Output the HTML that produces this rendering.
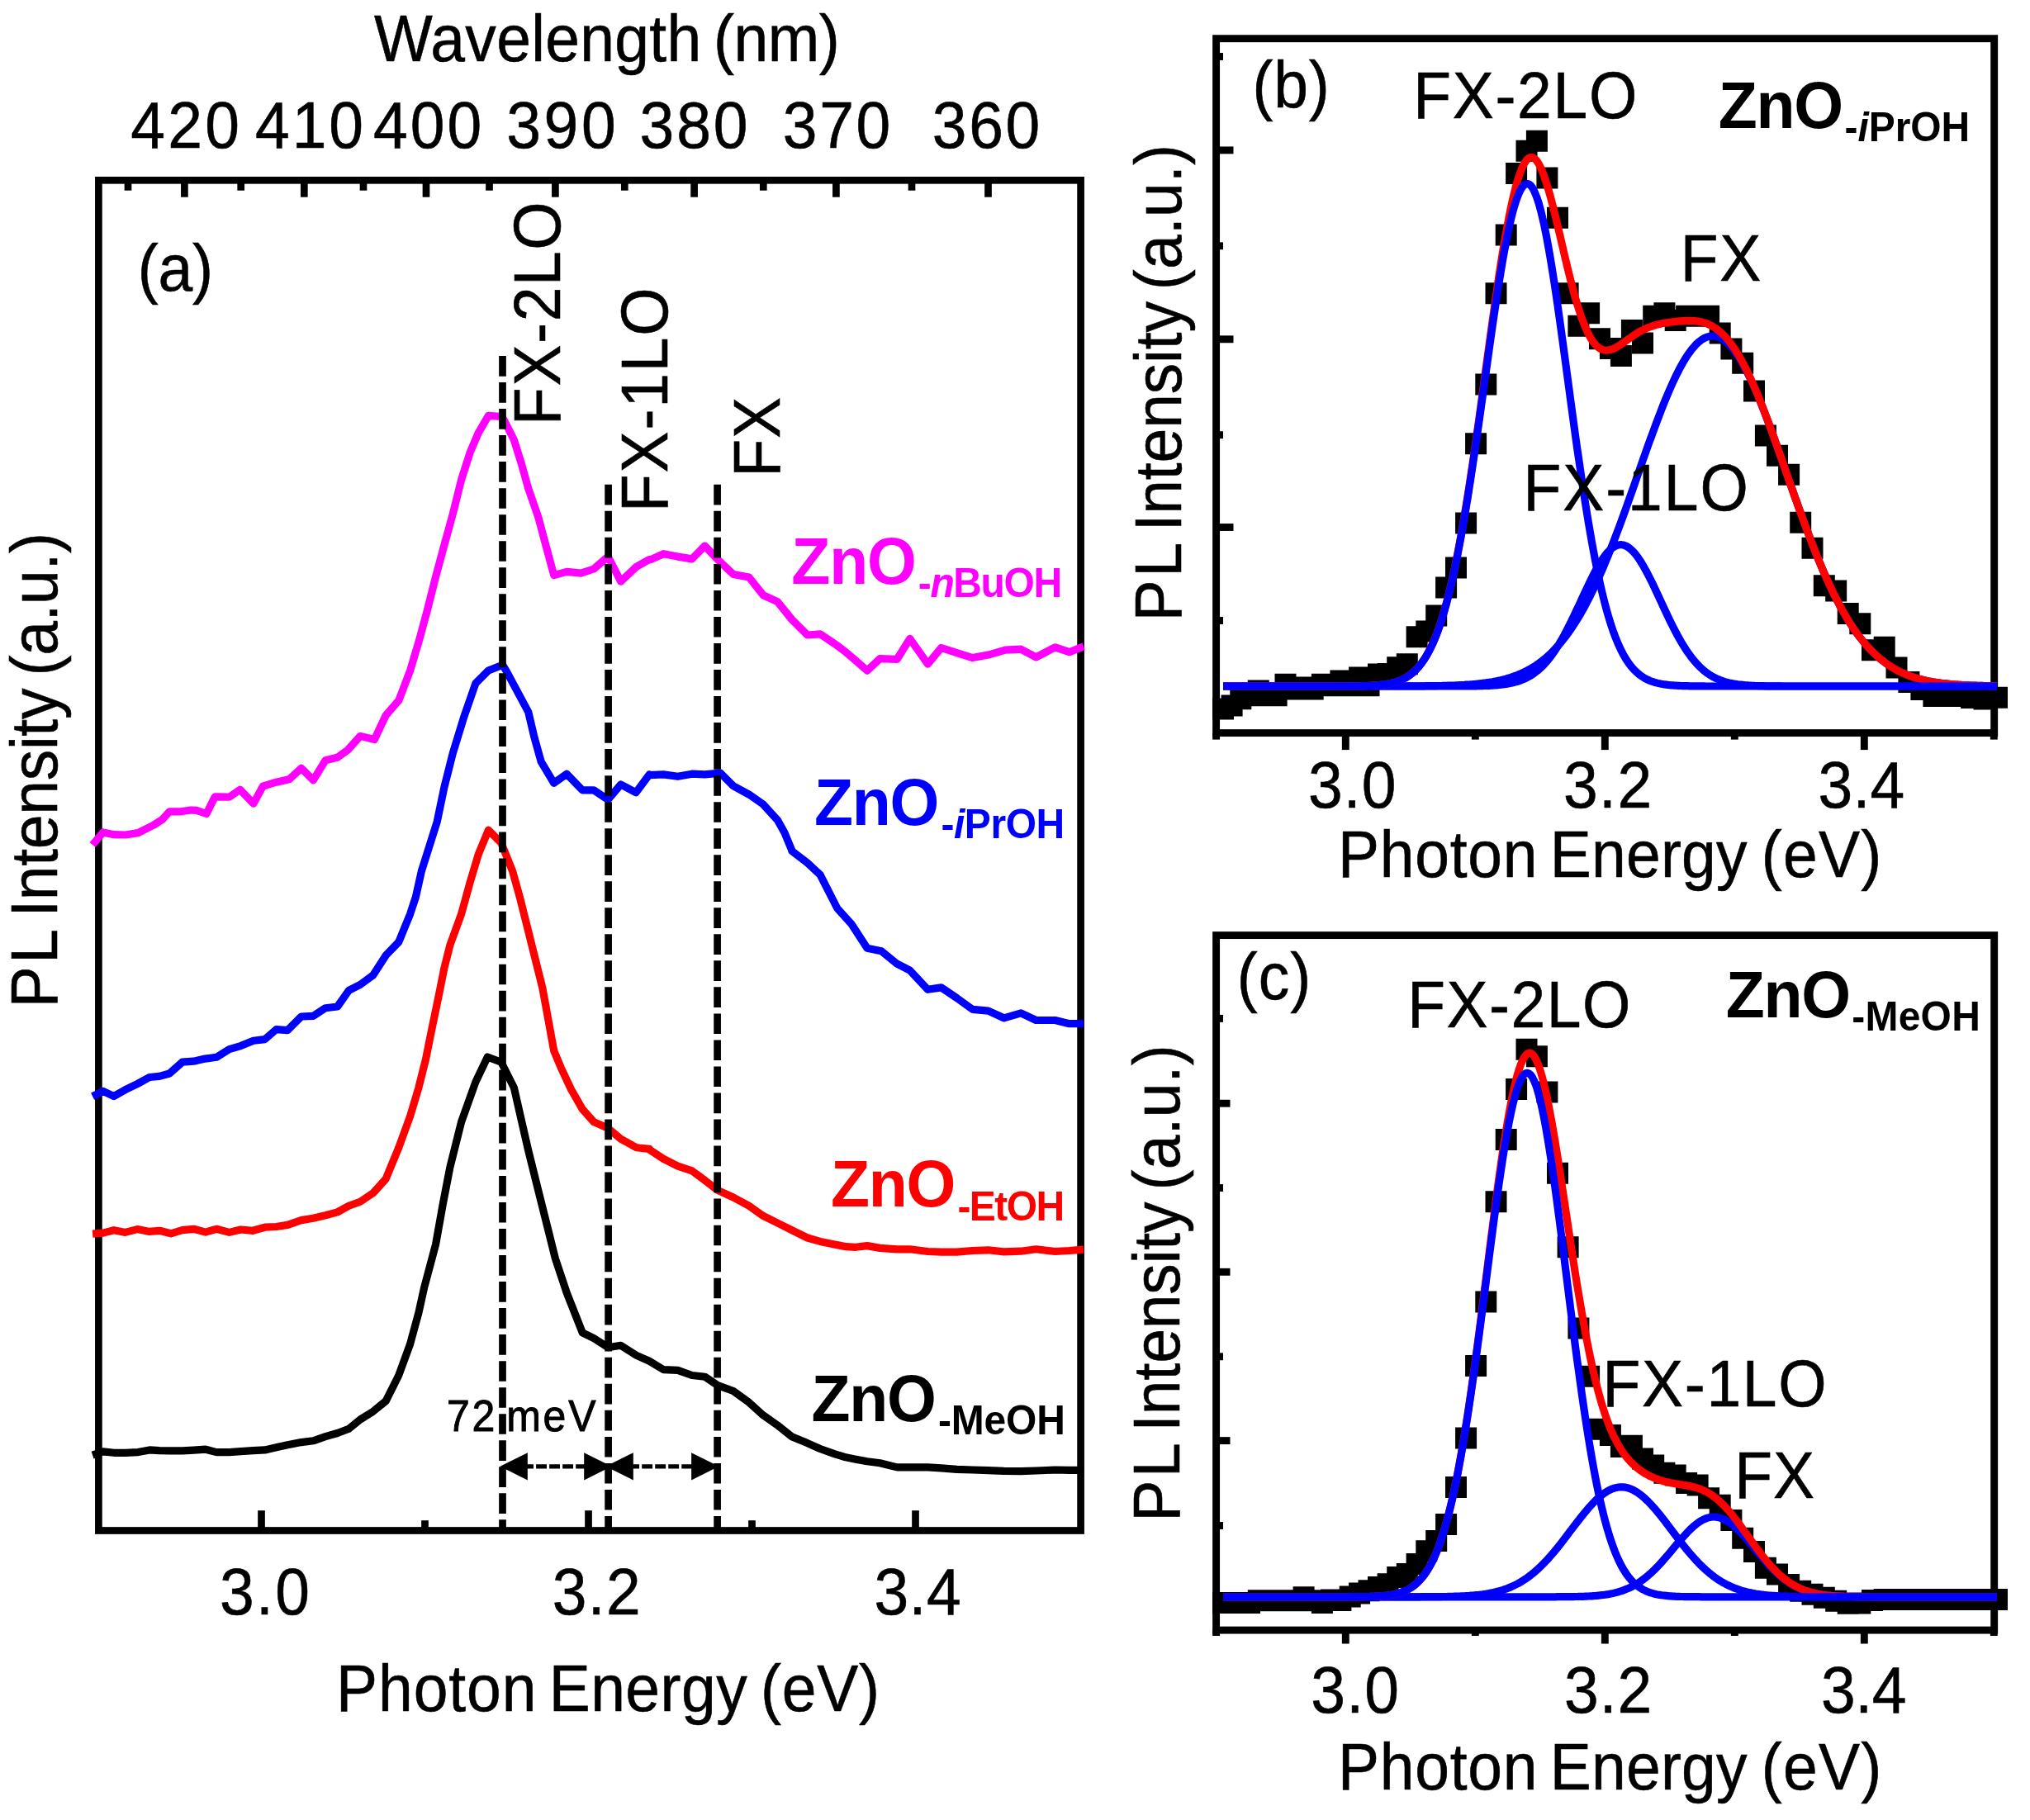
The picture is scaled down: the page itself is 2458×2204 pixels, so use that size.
<!DOCTYPE html>
<html><head><meta charset="utf-8"><title>PL spectra</title><style>html,body{margin:0;padding:0;background:#fff}svg{display:block}</style></head><body>
<svg width="2458" height="2204" viewBox="0 0 2458 2204" font-family="Liberation Sans, sans-serif">
<rect width="2458" height="2204" fill="#fff"/>
<rect x="119.4" y="218.3" width="1189.1999999999998" height="1635.2" fill="none" stroke="#000" stroke-width="8.7"/>
<line x1="316.5" y1="1853.5" x2="316.5" y2="1829.2" stroke="#000" stroke-width="8.7"/>
<line x1="514.5" y1="1853.5" x2="514.5" y2="1841.2" stroke="#000" stroke-width="8.7"/>
<line x1="712.5" y1="1853.5" x2="712.5" y2="1829.2" stroke="#000" stroke-width="8.7"/>
<line x1="910.5" y1="1853.5" x2="910.5" y2="1841.2" stroke="#000" stroke-width="8.7"/>
<line x1="1108.5" y1="1853.5" x2="1108.5" y2="1829.2" stroke="#000" stroke-width="8.7"/>
<line x1="223.4" y1="218.3" x2="223.4" y2="238.7" stroke="#000" stroke-width="8.7"/>
<line x1="368.3" y1="218.3" x2="368.3" y2="238.7" stroke="#000" stroke-width="8.7"/>
<line x1="516.0" y1="218.3" x2="516.0" y2="238.7" stroke="#000" stroke-width="8.7"/>
<line x1="672.4" y1="218.3" x2="672.4" y2="238.7" stroke="#000" stroke-width="8.7"/>
<line x1="840.6" y1="218.3" x2="840.6" y2="238.7" stroke="#000" stroke-width="8.7"/>
<line x1="1012.4" y1="218.3" x2="1012.4" y2="238.7" stroke="#000" stroke-width="8.7"/>
<line x1="1196.5" y1="218.3" x2="1196.5" y2="238.7" stroke="#000" stroke-width="8.7"/>
<line x1="155.0" y1="218.3" x2="155.0" y2="230.7" stroke="#000" stroke-width="8.7"/>
<line x1="291.7" y1="218.3" x2="291.7" y2="230.7" stroke="#000" stroke-width="8.7"/>
<line x1="440.0" y1="218.3" x2="440.0" y2="230.7" stroke="#000" stroke-width="8.7"/>
<line x1="592.5" y1="218.3" x2="592.5" y2="230.7" stroke="#000" stroke-width="8.7"/>
<line x1="756.3" y1="218.3" x2="756.3" y2="230.7" stroke="#000" stroke-width="8.7"/>
<line x1="924.3" y1="218.3" x2="924.3" y2="230.7" stroke="#000" stroke-width="8.7"/>
<line x1="1104.0" y1="218.3" x2="1104.0" y2="230.7" stroke="#000" stroke-width="8.7"/>
<polyline points="112.1,1762.1 124.8,1757.9 137.9,1759.3 151.7,1759.3 167.2,1758.6 181.0,1755.9 193.1,1756.6 206.9,1756.9 220.7,1756.9 234.5,1756.2 249.0,1755.2 262.1,1758.6 277.6,1758.6 291.4,1757.6 306.2,1756.6 320.7,1755.9 334.5,1752.8 348.3,1749.7 364.8,1746.6 379.3,1744.8 394.1,1739.7 408.6,1735.5 422.4,1730.3 436.2,1719.0 451.7,1709.3 467.2,1696.6 482.8,1665.5 496.6,1627.6 506.9,1589.7 513.8,1558.6 527.6,1506.9 536.2,1458.6 544.8,1413.8 558.6,1358.6 575.9,1310.3 590.3,1280.0 606.9,1286.2 622.4,1317.2 631.0,1355.2 639.7,1393.1 651.7,1441.4 663.8,1489.7 672.4,1524.1 686.2,1565.5 705.2,1613.8 719.0,1620.7 736.2,1631.7 751.7,1629.3 770.7,1641.4 786.2,1648.3 803.4,1658.6 820.7,1659.3 837.9,1665.5 853.4,1667.2 869.0,1677.6 887.9,1684.5 906.9,1698.3 924.1,1713.8 941.4,1725.9 958.6,1739.7 977.6,1747.6 993.1,1754.5 1010.3,1760.7 1024.1,1764.8 1036.2,1767.2 1050.0,1769.7 1065.5,1771.7 1086.2,1776.9 1101.7,1776.9 1123.4,1776.9 1139.7,1777.9 1158.6,1779.3 1177.6,1780.0 1196.6,1780.7 1215.5,1781.4 1236.2,1781.7 1254.5,1781.0 1277.6,1780.0 1294.8,1780.3 1312.1,1780.3" fill="none" stroke="#000" stroke-width="9.2" stroke-linejoin="round" />
<polyline points="112.1,1494.1 124.8,1493.1 137.9,1489.7 151.7,1492.4 166.2,1488.6 181.0,1491.4 193.1,1490.3 206.9,1493.8 220.7,1489.7 234.5,1488.3 249.0,1492.1 262.1,1488.3 277.6,1492.4 291.4,1489.0 306.2,1490.3 320.7,1486.2 334.5,1485.5 348.3,1483.4 364.8,1477.6 379.3,1475.2 394.1,1471.7 408.6,1467.9 422.4,1460.3 436.2,1455.2 451.7,1444.8 467.2,1427.6 482.8,1389.7 496.6,1351.7 506.9,1317.2 515.5,1282.8 522.4,1248.3 531.0,1206.9 537.9,1172.4 544.8,1144.8 558.6,1106.9 569.0,1069.0 579.3,1034.5 591.4,1005.2 606.9,1020.7 620.7,1055.2 629.3,1086.2 639.7,1127.6 648.3,1162.1 656.9,1196.6 663.8,1234.5 670.7,1272.4 679.3,1293.1 691.4,1319.0 705.2,1343.1 719.0,1358.6 736.2,1366.2 751.7,1379.3 770.7,1389.7 786.2,1391.4 786.2,1392.1 803.4,1403.4 820.7,1412.1 837.9,1417.9 853.4,1429.3 869.0,1441.4 887.9,1450.0 906.9,1460.3 924.1,1472.4 941.4,1481.0 958.6,1489.7 977.6,1499.0 993.1,1503.4 1010.3,1506.9 1024.1,1509.7 1036.2,1510.3 1050.0,1508.6 1065.5,1511.4 1086.2,1512.8 1101.7,1512.8 1123.4,1515.5 1139.7,1516.2 1158.6,1516.2 1177.6,1514.5 1196.6,1513.8 1215.5,1515.9 1236.2,1515.2 1254.5,1512.8 1277.6,1515.5 1294.8,1514.5 1312.1,1513.1" fill="none" stroke="#f00" stroke-width="9.2" stroke-linejoin="round" />
<polyline points="112.1,1327.6 124.8,1321.4 137.9,1327.6 151.7,1319.7 167.2,1312.1 181.0,1304.5 193.1,1303.4 205.2,1300.0 220.7,1286.2 234.5,1285.2 248.3,1282.1 262.1,1280.3 277.6,1270.7 291.4,1266.6 306.9,1260.3 320.7,1258.6 334.5,1246.6 348.3,1247.6 364.8,1231.0 379.3,1230.3 394.1,1220.7 408.6,1219.0 422.4,1199.3 436.2,1192.4 451.7,1181.0 467.2,1156.9 482.8,1140.7 496.6,1106.9 503.4,1086.2 510.3,1055.2 529.3,994.8 537.9,953.4 548.3,912.1 562.1,867.2 575.9,827.6 591.4,812.1 608.6,805.2 613.8,813.8 627.6,839.7 639.7,862.1 646.6,891.4 655.2,922.4 670.7,948.3 686.2,937.2 705.2,956.9 719.0,956.9 736.2,968.3 751.7,950.0 770.0,959.7 786.2,937.9 786.2,938.6 803.4,937.9 820.7,940.3 837.9,937.2 853.4,937.9 872.4,936.2 887.9,951.7 906.9,962.1 924.1,974.1 941.4,993.1 950.0,1008.6 958.6,1029.3 958.6,1030.3 977.6,1044.8 993.1,1059.3 1013.8,1100.0 1031.0,1119.0 1050.0,1148.3 1067.2,1151.7 1086.2,1167.2 1101.7,1175.2 1123.4,1198.3 1139.7,1195.9 1158.6,1208.6 1177.6,1222.4 1196.6,1224.1 1215.5,1232.8 1236.2,1226.9 1254.5,1235.5 1277.6,1235.5 1294.8,1239.7 1312.1,1239.7" fill="none" stroke="#00f" stroke-width="9.2" stroke-linejoin="round" />
<polyline points="112.1,1023.1 124.8,1007.9 137.9,1010.7 151.7,1011.0 167.2,1008.6 186.2,999.0 196.6,992.4 205.2,982.8 219.0,982.8 231.0,981.0 237.9,981.4 250.0,985.5 260.3,964.8 277.6,965.2 290.7,956.2 306.9,973.1 318.3,952.1 334.5,947.2 350.0,943.8 364.8,930.3 379.3,944.8 394.1,920.7 408.6,917.2 420.7,908.6 436.2,891.4 453.4,895.5 467.2,866.2 482.8,848.3 496.6,812.1 506.9,777.6 517.2,739.7 527.6,698.3 537.9,660.3 548.3,622.4 558.6,581.0 569.0,548.3 579.3,524.1 591.4,503.4 606.9,504.5 610.3,508.6 622.4,532.8 631.0,560.3 639.7,591.4 651.7,625.9 658.6,651.7 670.7,696.6 686.2,692.4 703.4,694.1 719.0,689.0 736.2,674.1 751.7,704.1 770.7,686.2 786.2,677.6 787.9,677.6 803.4,670.7 820.7,674.1 837.9,676.9 853.4,661.0 869.0,677.6 887.9,695.5 906.9,699.0 924.1,720.7 941.4,728.6 958.6,750.0 977.6,769.0 993.1,767.9 1010.3,779.3 1024.1,789.7 1036.2,800.0 1050.0,812.1 1065.5,797.6 1086.2,798.3 1101.7,773.4 1123.4,804.1 1139.7,784.5 1158.6,790.7 1177.6,796.6 1196.6,793.1 1217.2,787.2 1236.2,786.2 1254.5,795.9 1277.6,783.8 1294.8,789.7 1312.1,782.8" fill="none" stroke="#f0f" stroke-width="9.2" stroke-linejoin="round" />
<line x1="608.5" y1="431" x2="608.5" y2="1853.5" stroke="#000" stroke-width="8.7" stroke-dasharray="24.66 7.37"/>
<line x1="736.6" y1="586.8" x2="736.6" y2="1853.5" stroke="#000" stroke-width="8.7" stroke-dasharray="24.66 7.37"/>
<line x1="868.6" y1="586.8" x2="868.6" y2="1853.5" stroke="#000" stroke-width="8.7" stroke-dasharray="24.66 7.37"/>
<line x1="637.8" y1="1775.8" x2="708.2" y2="1775.8" stroke="#000" stroke-width="5.3" stroke-dasharray="12.9 3.13" stroke-dashoffset="4.73"/>
<polygon points="605.5,1775.8 638.8,1759.2 638.8,1792.3999999999999" fill="#000"/>
<polygon points="740.5,1775.8 707.2,1759.2 707.2,1792.3999999999999" fill="#000"/>
<line x1="765.8" y1="1775.8" x2="838.1" y2="1775.8" stroke="#000" stroke-width="5.3" stroke-dasharray="12.9 3.13" stroke-dashoffset="4.63"/>
<polygon points="733.5,1775.8 766.8,1759.2 766.8,1792.3999999999999" fill="#000"/>
<polygon points="870.4,1775.8 837.1,1759.2 837.1,1792.3999999999999" fill="#000"/>
<text font-size="75" stroke="#000" stroke-width="0.55" transform="translate(0 74.3) scale(1 1.068)"><tspan x="453.0" y="0" letter-spacing="0.34">Wavelength</tspan> <tspan x="864.0" y="0" letter-spacing="-0.50">(nm)</tspan></text>
<text font-size="75" stroke="#000" stroke-width="0.55" transform="translate(0 179.3) scale(1 1.068)"><tspan x="158.3" y="0" letter-spacing="3.30">420</tspan></text>
<text font-size="75" stroke="#000" stroke-width="0.55" transform="translate(0 179.3) scale(1 1.068)"><tspan x="309.0" y="0" letter-spacing="2.95">410</tspan></text>
<text font-size="75" stroke="#000" stroke-width="0.55" transform="translate(0 179.3) scale(1 1.068)"><tspan x="452.1" y="0" letter-spacing="2.95">400</tspan></text>
<text font-size="75" stroke="#000" stroke-width="0.55" transform="translate(0 179.3) scale(1 1.068)"><tspan x="613.2" y="0" letter-spacing="3.65">390</tspan></text>
<text font-size="75" stroke="#000" stroke-width="0.55" transform="translate(0 179.3) scale(1 1.068)"><tspan x="774.6" y="0" letter-spacing="2.90">380</tspan></text>
<text font-size="75" stroke="#000" stroke-width="0.55" transform="translate(0 179.3) scale(1 1.068)"><tspan x="947.7" y="0" letter-spacing="2.75">370</tspan></text>
<text font-size="75" stroke="#000" stroke-width="0.55" transform="translate(0 179.3) scale(1 1.068)"><tspan x="1128.7" y="0" letter-spacing="2.75">360</tspan></text>
<text font-size="75" stroke="#000" stroke-width="0.55" transform="translate(0 351.7) scale(1 1.068)"><tspan x="166.7" y="0" letter-spacing="-0.15">(a)</tspan></text>
<text font-size="75" stroke="#000" stroke-width="0.55" transform="translate(0 1955.2) scale(1 1.068)"><tspan x="266.0" y="0" letter-spacing="2.35">3.0</tspan></text>
<text font-size="75" stroke="#000" stroke-width="0.55" transform="translate(0 1955.2) scale(1 1.068)"><tspan x="668.7" y="0" letter-spacing="1.35">3.2</tspan></text>
<text font-size="75" stroke="#000" stroke-width="0.55" transform="translate(0 1955.2) scale(1 1.068)"><tspan x="1058.4" y="0" letter-spacing="0.50">3.4</tspan></text>
<text font-size="75" stroke="#000" stroke-width="0.55" transform="translate(0 2071.5) scale(1 1.068)"><tspan x="407.1" y="0" letter-spacing="0.94">Photon</tspan> <tspan x="664.7" y="0" letter-spacing="0.48">Energy</tspan> <tspan x="920.9" y="0" letter-spacing="0.80">(eV)</tspan></text>
<text font-size="75" stroke="#000" stroke-width="0.55" transform="translate(68.5 1220.2) rotate(-90) scale(1 1.068)"><tspan x="0.0" y="0" letter-spacing="3.50">PL</tspan> <tspan x="109.4" y="0" letter-spacing="-0.25">Intensity</tspan> <tspan x="401.7" y="0" letter-spacing="-0.30">(a.u.)</tspan></text>
<text font-size="75" stroke="#000" stroke-width="0.55" transform="translate(677.8 514.9) rotate(-90) scale(1 1.068)"><tspan x="0.0" y="0" letter-spacing="1.58">FX-2LO</tspan></text>
<text font-size="75" stroke="#000" stroke-width="0.55" transform="translate(807.9 620.0) rotate(-90) scale(1 1.068)"><tspan x="0.0" y="0" letter-spacing="1.82">FX-1LO</tspan></text>
<text font-size="75" stroke="#000" stroke-width="0.55" transform="translate(943.9 577.4) rotate(-90) scale(1 1.068)"><tspan x="0.0" y="0" letter-spacing="0.50">FX</tspan></text>
<text font-size="50" stroke="#000" stroke-width="0.9" transform="translate(0 1732.8) scale(1 1.068)"><tspan x="541.1" y="0" letter-spacing="2.50">72</tspan> <tspan x="613.2" y="0" letter-spacing="2.75">meV</tspan></text>
<text font-size="77" font-weight="bold" fill="#f0f" transform="translate(0 707.0) scale(1 1.045)"><tspan x="958.3" y="0" letter-spacing="-1.20">ZnO</tspan></text>
<text font-size="48" font-weight="bold" fill="#f0f" transform="translate(0 723.1) scale(1 1.045)"><tspan x="1111.8" y="0" letter-spacing="-1.40">-<tspan font-style="italic">n</tspan>BuOH</tspan></text>
<text font-size="77" font-weight="bold" fill="#00f" transform="translate(0 999.3) scale(1 1.045)"><tspan x="986.0" y="0" letter-spacing="-1.25">ZnO</tspan></text>
<text font-size="48" font-weight="bold" fill="#00f" transform="translate(0 1015.4) scale(1 1.045)"><tspan x="1139.4" y="0" letter-spacing="-0.44">-<tspan font-style="italic">i</tspan>PrOH</tspan></text>
<text font-size="77" font-weight="bold" fill="#f00" transform="translate(0 1461.4) scale(1 1.045)"><tspan x="1005.9" y="0" letter-spacing="-1.25">ZnO</tspan></text>
<text font-size="48" font-weight="bold" fill="#f00" transform="translate(0 1477.5) scale(1 1.045)"><tspan x="1159.4" y="0" letter-spacing="-1.55">-EtOH</tspan></text>
<text font-size="77" font-weight="bold" transform="translate(0 1720.7) scale(1 1.045)"><tspan x="982.5" y="0" letter-spacing="-1.25">ZnO</tspan></text>
<text font-size="48" font-weight="bold" transform="translate(0 1736.8) scale(1 1.045)"><tspan x="1136.0" y="0" letter-spacing="-0.20">-MeOH</tspan></text>
<rect x="1472.6" y="46.7" width="942.0999999999999" height="840.9" fill="none" stroke="#000" stroke-width="8.9"/>
<line x1="1472.6" y1="887.6" x2="1472.6" y2="895.6" stroke="#000" stroke-width="8.9"/>
<line x1="1629.3" y1="887.6" x2="1629.3" y2="908.1" stroke="#000" stroke-width="8.9"/>
<line x1="1786.3" y1="887.6" x2="1786.3" y2="895.6" stroke="#000" stroke-width="8.9"/>
<line x1="1943.3" y1="887.6" x2="1943.3" y2="908.1" stroke="#000" stroke-width="8.9"/>
<line x1="2100.3" y1="887.6" x2="2100.3" y2="895.6" stroke="#000" stroke-width="8.9"/>
<line x1="2257.3" y1="887.6" x2="2257.3" y2="908.1" stroke="#000" stroke-width="8.9"/>
<line x1="2414.3" y1="887.6" x2="2414.3" y2="895.6" stroke="#000" stroke-width="8.9"/>
<line x1="1472.6" y1="181.9" x2="1493.5" y2="181.9" stroke="#000" stroke-width="8.9"/>
<line x1="1472.6" y1="410.8" x2="1493.5" y2="410.8" stroke="#000" stroke-width="8.9"/>
<line x1="1472.6" y1="638.5" x2="1493.5" y2="638.5" stroke="#000" stroke-width="8.9"/>
<line x1="1472.6" y1="866.5" x2="1493.5" y2="866.5" stroke="#000" stroke-width="8.9"/>
<line x1="1472.6" y1="68.5" x2="1481.0" y2="68.5" stroke="#000" stroke-width="8.9"/>
<line x1="1472.6" y1="297.8" x2="1481.0" y2="297.8" stroke="#000" stroke-width="8.9"/>
<line x1="1472.6" y1="526.7" x2="1481.0" y2="526.7" stroke="#000" stroke-width="8.9"/>
<line x1="1472.6" y1="751.5" x2="1481.0" y2="751.5" stroke="#000" stroke-width="8.9"/>
<path d="M2405.0 831.8h26.0v26.0h-26.0zM2389.5 833.6h26.0v26.0h-26.0zM2374.1 832.0h26.0v26.0h-26.0zM2358.8 830.0h26.0v26.0h-26.0zM2343.6 830.0h26.0v26.0h-26.0zM2328.4 830.0h26.0v26.0h-26.0zM2313.4 822.0h26.0v26.0h-26.0zM2298.4 812.9h26.0v26.0h-26.0zM2283.5 795.6h26.0v26.0h-26.0zM2268.7 770.8h26.0v26.0h-26.0zM2254.0 774.2h26.0v26.0h-26.0zM2239.3 742.2h26.0v26.0h-26.0zM2224.7 730.1h26.0v26.0h-26.0zM2210.2 702.5h26.0v26.0h-26.0zM2195.8 696.3h26.0v26.0h-26.0zM2181.5 650.8h26.0v26.0h-26.0zM2167.2 619.8h26.0v26.0h-26.0zM2153.1 561.8h26.0v26.0h-26.0zM2139.0 538.7h26.0v26.0h-26.0zM2124.9 514.6h26.0v26.0h-26.0zM2111.0 460.4h26.0v26.0h-26.0zM2097.2 426.7h26.0v26.0h-26.0zM2083.4 409.4h26.0v26.0h-26.0zM2069.7 390.4h26.0v26.0h-26.0zM2056.1 369.8h26.0v26.0h-26.0zM2042.6 369.8h26.0v26.0h-26.0zM2029.1 369.8h26.0v26.0h-26.0zM2015.7 375.0h26.0v26.0h-26.0zM2002.4 366.3h26.0v26.0h-26.0zM1989.2 369.8h26.0v26.0h-26.0zM1976.0 402.5h26.0v26.0h-26.0zM1962.9 387.0h26.0v26.0h-26.0zM1949.9 418.0h26.0v26.0h-26.0zM1936.9 409.0h26.0v26.0h-26.0zM1924.0 397.3h26.0v26.0h-26.0zM1911.1 366.3h26.0v26.0h-26.0zM1898.4 381.8h26.0v26.0h-26.0zM1885.6 342.2h26.0v26.0h-26.0zM1873.0 250.8h26.0v26.0h-26.0zM1860.4 202.5h26.0v26.0h-26.0zM1847.9 157.7h26.0v26.0h-26.0zM1835.5 169.8h26.0v26.0h-26.0zM1823.1 197.0h26.0v26.0h-26.0zM1810.7 271.5h26.0v26.0h-26.0zM1798.5 342.2h26.0v26.0h-26.0zM1786.3 452.5h26.0v26.0h-26.0zM1774.1 524.3h26.0v26.0h-26.0zM1762.1 620.5h26.0v26.0h-26.0zM1750.0 674.4h26.0v26.0h-26.0zM1738.1 698.6h26.0v26.0h-26.0zM1726.2 732.4h26.0v26.0h-26.0zM1714.3 751.6h26.0v26.0h-26.0zM1702.6 758.3h26.0v26.0h-26.0zM1690.8 791.3h26.0v26.0h-26.0zM1679.2 795.3h26.0v26.0h-26.0zM1667.6 803.0h26.0v26.0h-26.0zM1656.0 803.4h26.0v26.0h-26.0zM1644.5 817.3h26.0v26.0h-26.0zM1633.1 807.5h26.0v26.0h-26.0zM1621.7 817.3h26.0v26.0h-26.0zM1610.4 811.5h26.0v26.0h-26.0zM1599.1 817.3h26.0v26.0h-26.0zM1587.9 815.7h26.0v26.0h-26.0zM1576.7 821.5h26.0v26.0h-26.0zM1565.6 819.6h26.0v26.0h-26.0zM1554.5 821.5h26.0v26.0h-26.0zM1543.5 815.7h26.0v26.0h-26.0zM1532.6 829.3h26.0v26.0h-26.0zM1521.7 829.3h26.0v26.0h-26.0zM1510.8 823.6h26.0v26.0h-26.0zM1500.0 829.3h26.0v26.0h-26.0zM1489.3 833.3h26.0v26.0h-26.0zM1478.6 841.4h26.0v26.0h-26.0zM1468.0 845.4h26.0v26.0h-26.0z" fill="#000"/>
<polyline points="1481.0,831.0 1483.0,831.0 1485.0,831.0 1487.0,831.0 1489.0,831.0 1491.0,831.0 1493.0,831.0 1495.0,831.0 1497.0,831.0 1499.0,831.0 1501.0,831.0 1503.0,831.0 1505.0,831.0 1507.0,831.0 1509.0,831.0 1511.0,831.0 1513.0,831.0 1515.0,831.0 1517.0,831.0 1519.0,831.0 1521.0,831.0 1523.0,831.0 1525.0,831.0 1527.0,831.0 1529.0,831.0 1531.0,831.0 1533.0,831.0 1535.0,831.0 1537.0,831.0 1539.0,831.0 1541.0,831.0 1543.0,831.0 1545.0,831.0 1547.0,831.0 1549.0,831.0 1551.0,831.0 1553.0,831.0 1555.0,831.0 1557.0,831.0 1559.1,831.0 1561.1,831.0 1563.1,831.0 1565.1,831.0 1567.1,831.0 1569.1,831.0 1571.1,831.0 1573.1,831.0 1575.1,831.0 1577.1,831.0 1579.1,831.0 1581.1,831.0 1583.1,831.0 1585.1,831.0 1587.1,831.0 1589.1,831.0 1591.1,831.0 1593.1,831.0 1595.1,831.0 1597.1,831.0 1599.1,831.0 1601.1,831.0 1603.1,831.0 1605.1,831.0 1607.1,831.0 1609.1,831.0 1611.1,831.0 1613.1,831.0 1615.1,831.0 1617.1,831.0 1619.1,831.0 1621.1,831.0 1623.1,831.0 1625.1,831.0 1627.1,831.0 1629.1,831.0 1631.1,831.0 1633.1,831.0 1635.1,831.0 1637.1,831.0 1639.1,831.0 1641.1,831.0 1643.1,831.0 1645.1,831.0 1647.2,831.0 1649.2,831.0 1651.2,831.0 1653.2,831.0 1655.2,831.0 1657.2,831.0 1659.2,831.0 1661.2,831.0 1663.2,831.0 1665.2,831.0 1667.2,831.0 1669.2,831.0 1671.2,831.0 1673.2,831.0 1675.2,831.0 1677.2,831.0 1679.2,831.0 1681.2,831.0 1683.2,831.0 1685.2,831.0 1687.2,831.0 1689.2,831.0 1691.2,830.9 1693.2,830.9 1695.2,830.9 1697.2,830.9 1699.2,830.9 1701.2,830.9 1703.2,830.9 1705.2,830.9 1707.2,830.9 1709.2,830.9 1711.2,830.9 1713.2,830.9 1715.2,830.8 1717.2,830.8 1719.2,830.8 1721.2,830.8 1723.2,830.8 1725.2,830.8 1727.2,830.7 1729.2,830.7 1731.2,830.7 1733.2,830.7 1735.3,830.6 1737.3,830.6 1739.3,830.6 1741.3,830.5 1743.3,830.5 1745.3,830.5 1747.3,830.4 1749.3,830.4 1751.3,830.3 1753.3,830.2 1755.3,830.2 1757.3,830.1 1759.3,830.0 1761.3,830.0 1763.3,829.9 1765.3,829.8 1767.3,829.7 1769.3,829.6 1771.3,829.5 1773.3,829.4 1775.3,829.2 1777.3,829.1 1779.3,829.0 1781.3,828.8 1783.3,828.7 1785.3,828.5 1787.3,828.3 1789.3,828.1 1791.3,827.9 1793.3,827.7 1795.3,827.4 1797.3,827.2 1799.3,826.9 1801.3,826.6 1803.3,826.3 1805.3,826.0 1807.3,825.7 1809.3,825.3 1811.3,824.9 1813.3,824.5 1815.3,824.1 1817.3,823.6 1819.3,823.1 1821.3,822.6 1823.4,822.1 1825.4,821.5 1827.4,820.9 1829.4,820.3 1831.4,819.6 1833.4,818.9 1835.4,818.2 1837.4,817.4 1839.4,816.6 1841.4,815.8 1843.4,814.9 1845.4,813.9 1847.4,812.9 1849.4,811.9 1851.4,810.8 1853.4,809.7 1855.4,808.5 1857.4,807.3 1859.4,806.0 1861.4,804.6 1863.4,803.2 1865.4,801.7 1867.4,800.2 1869.4,798.6 1871.4,796.9 1873.4,795.2 1875.4,793.4 1877.4,791.5 1879.4,789.6 1881.4,787.5 1883.4,785.4 1885.4,783.2 1887.4,781.0 1889.4,778.6 1891.4,776.2 1893.4,773.7 1895.4,771.1 1897.4,768.4 1899.4,765.7 1901.4,762.8 1903.4,759.9 1905.4,756.8 1907.4,753.7 1909.4,750.5 1911.5,747.2 1913.5,743.8 1915.5,740.3 1917.5,736.7 1919.5,733.0 1921.5,729.2 1923.5,725.3 1925.5,721.4 1927.5,717.3 1929.5,713.2 1931.5,708.9 1933.5,704.6 1935.5,700.2 1937.5,695.7 1939.5,691.1 1941.5,686.4 1943.5,681.6 1945.5,676.8 1947.5,671.9 1949.5,666.9 1951.5,661.8 1953.5,656.7 1955.5,651.5 1957.5,646.2 1959.5,640.9 1961.5,635.5 1963.5,630.1 1965.5,624.6 1967.5,619.1 1969.5,613.5 1971.5,607.9 1973.5,602.2 1975.5,596.6 1977.5,590.9 1979.5,585.2 1981.5,579.5 1983.5,573.7 1985.5,568.0 1987.5,562.3 1989.5,556.6 1991.5,550.9 1993.5,545.3 1995.5,539.6 1997.5,534.0 1999.6,528.5 2001.6,523.0 2003.6,517.5 2005.6,512.1 2007.6,506.8 2009.6,501.6 2011.6,496.4 2013.6,491.3 2015.6,486.3 2017.6,481.5 2019.6,476.7 2021.6,472.0 2023.6,467.5 2025.6,463.0 2027.6,458.7 2029.6,454.6 2031.6,450.6 2033.6,446.7 2035.6,443.0 2037.6,439.4 2039.6,436.0 2041.6,432.8 2043.6,429.8 2045.6,426.9 2047.6,424.2 2049.6,421.7 2051.6,419.4 2053.6,417.2 2055.6,415.3 2057.6,413.6 2059.6,412.0 2061.6,410.7 2063.6,409.5 2065.6,408.6 2067.6,407.9 2069.6,407.4 2071.6,407.1 2073.6,407.0 2075.6,407.1 2077.6,407.4 2079.6,408.0 2081.6,408.7 2083.6,409.7 2085.6,410.8 2087.7,412.2 2089.7,413.8 2091.7,415.5 2093.7,417.5 2095.7,419.7 2097.7,422.0 2099.7,424.5 2101.7,427.3 2103.7,430.2 2105.7,433.2 2107.7,436.5 2109.7,439.9 2111.7,443.5 2113.7,447.2 2115.7,451.1 2117.7,455.1 2119.7,459.3 2121.7,463.6 2123.7,468.1 2125.7,472.6 2127.7,477.3 2129.7,482.1 2131.7,487.0 2133.7,492.0 2135.7,497.1 2137.7,502.3 2139.7,507.5 2141.7,512.9 2143.7,518.2 2145.7,523.7 2147.7,529.2 2149.7,534.8 2151.7,540.4 2153.7,546.0 2155.7,551.7 2157.7,557.4 2159.7,563.1 2161.7,568.8 2163.7,574.5 2165.7,580.2 2167.7,585.9 2169.7,591.6 2171.7,597.3 2173.7,603.0 2175.8,608.6 2177.8,614.2 2179.8,619.8 2181.8,625.3 2183.8,630.8 2185.8,636.2 2187.8,641.6 2189.8,646.9 2191.8,652.2 2193.8,657.4 2195.8,662.5 2197.8,667.6 2199.8,672.6 2201.8,677.5 2203.8,682.3 2205.8,687.0 2207.8,691.7 2209.8,696.3 2211.8,700.8 2213.8,705.2 2215.8,709.5 2217.8,713.7 2219.8,717.9 2221.8,721.9 2223.8,725.9 2225.8,729.7 2227.8,733.5 2229.8,737.2 2231.8,740.7 2233.8,744.2 2235.8,747.6 2237.8,750.9 2239.8,754.1 2241.8,757.2 2243.8,760.3 2245.8,763.2 2247.8,766.0 2249.8,768.8 2251.8,771.5 2253.8,774.0 2255.8,776.5 2257.8,779.0 2259.8,781.3 2261.8,783.5 2263.9,785.7 2265.9,787.8 2267.9,789.8 2269.9,791.8 2271.9,793.6 2273.9,795.4 2275.9,797.2 2277.9,798.8 2279.9,800.4 2281.9,801.9 2283.9,803.4 2285.9,804.8 2287.9,806.2 2289.9,807.4 2291.9,808.7 2293.9,809.9 2295.9,811.0 2297.9,812.1 2299.9,813.1 2301.9,814.1 2303.9,815.0 2305.9,815.9 2307.9,816.7 2309.9,817.5 2311.9,818.3 2313.9,819.0 2315.9,819.7 2317.9,820.4 2319.9,821.0 2321.9,821.6 2323.9,822.2 2325.9,822.7 2327.9,823.2 2329.9,823.7 2331.9,824.1 2333.9,824.6 2335.9,825.0 2337.9,825.3 2339.9,825.7 2341.9,826.0 2343.9,826.4 2345.9,826.7 2347.9,826.9 2349.9,827.2 2352.0,827.5 2354.0,827.7 2356.0,827.9 2358.0,828.1 2360.0,828.3 2362.0,828.5 2364.0,828.7 2366.0,828.8 2368.0,829.0 2370.0,829.1 2372.0,829.3 2374.0,829.4 2376.0,829.5 2378.0,829.6 2380.0,829.7 2382.0,829.8 2384.0,829.9 2386.0,830.0 2388.0,830.1 2390.0,830.1 2392.0,830.2 2394.0,830.3 2396.0,830.3 2398.0,830.4 2400.0,830.4 2402.0,830.5 2404.0,830.5 2406.0,830.5 2408.0,830.6 2410.0,830.6 2412.0,830.6 2414.0,830.7 2416.0,830.7 2418.0,830.7" fill="none" stroke="#00f" stroke-width="9.2" stroke-linejoin="round"/>
<polyline points="1481.0,831.0 1483.0,831.0 1485.0,831.0 1487.0,831.0 1489.0,831.0 1491.0,831.0 1493.0,831.0 1495.0,831.0 1497.0,831.0 1499.0,831.0 1501.0,831.0 1503.0,831.0 1505.0,831.0 1507.0,831.0 1509.0,831.0 1511.0,831.0 1513.0,831.0 1515.0,831.0 1517.0,831.0 1519.0,831.0 1521.0,831.0 1523.0,831.0 1525.0,831.0 1527.0,831.0 1529.0,831.0 1531.0,831.0 1533.0,831.0 1535.0,831.0 1537.0,831.0 1539.0,831.0 1541.0,831.0 1543.0,831.0 1545.0,831.0 1547.0,831.0 1549.0,831.0 1551.0,831.0 1553.0,831.0 1555.0,831.0 1557.0,831.0 1559.1,831.0 1561.1,831.0 1563.1,831.0 1565.1,831.0 1567.1,831.0 1569.1,831.0 1571.1,831.0 1573.1,831.0 1575.1,831.0 1577.1,831.0 1579.1,831.0 1581.1,831.0 1583.1,831.0 1585.1,831.0 1587.1,831.0 1589.1,831.0 1591.1,831.0 1593.1,831.0 1595.1,831.0 1597.1,831.0 1599.1,831.0 1601.1,831.0 1603.1,831.0 1605.1,831.0 1607.1,831.0 1609.1,831.0 1611.1,831.0 1613.1,831.0 1615.1,831.0 1617.1,831.0 1619.1,831.0 1621.1,831.0 1623.1,831.0 1625.1,831.0 1627.1,831.0 1629.1,831.0 1631.1,831.0 1633.1,831.0 1635.1,831.0 1637.1,831.0 1639.1,831.0 1641.1,831.0 1643.1,831.0 1645.1,831.0 1647.2,831.0 1649.2,831.0 1651.2,831.0 1653.2,831.0 1655.2,831.0 1657.2,831.0 1659.2,831.0 1661.2,831.0 1663.2,831.0 1665.2,831.0 1667.2,831.0 1669.2,831.0 1671.2,831.0 1673.2,831.0 1675.2,831.0 1677.2,831.0 1679.2,831.0 1681.2,831.0 1683.2,831.0 1685.2,831.0 1687.2,831.0 1689.2,831.0 1691.2,831.0 1693.2,831.0 1695.2,831.0 1697.2,831.0 1699.2,831.0 1701.2,831.0 1703.2,831.0 1705.2,831.0 1707.2,831.0 1709.2,831.0 1711.2,831.0 1713.2,831.0 1715.2,831.0 1717.2,831.0 1719.2,831.0 1721.2,831.0 1723.2,831.0 1725.2,831.0 1727.2,831.0 1729.2,831.0 1731.2,831.0 1733.2,831.0 1735.3,831.0 1737.3,831.0 1739.3,831.0 1741.3,831.0 1743.3,831.0 1745.3,831.0 1747.3,831.0 1749.3,831.0 1751.3,831.0 1753.3,831.0 1755.3,831.0 1757.3,831.0 1759.3,831.0 1761.3,831.0 1763.3,831.0 1765.3,831.0 1767.3,831.0 1769.3,830.9 1771.3,830.9 1773.3,830.9 1775.3,830.9 1777.3,830.9 1779.3,830.9 1781.3,830.9 1783.3,830.8 1785.3,830.8 1787.3,830.8 1789.3,830.7 1791.3,830.7 1793.3,830.7 1795.3,830.6 1797.3,830.5 1799.3,830.5 1801.3,830.4 1803.3,830.3 1805.3,830.2 1807.3,830.1 1809.3,829.9 1811.3,829.8 1813.3,829.6 1815.3,829.4 1817.3,829.2 1819.3,829.0 1821.3,828.7 1823.4,828.4 1825.4,828.1 1827.4,827.7 1829.4,827.3 1831.4,826.9 1833.4,826.4 1835.4,825.9 1837.4,825.3 1839.4,824.6 1841.4,823.9 1843.4,823.1 1845.4,822.3 1847.4,821.3 1849.4,820.3 1851.4,819.2 1853.4,818.1 1855.4,816.8 1857.4,815.4 1859.4,813.9 1861.4,812.4 1863.4,810.7 1865.4,808.9 1867.4,806.9 1869.4,804.9 1871.4,802.7 1873.4,800.4 1875.4,798.0 1877.4,795.4 1879.4,792.7 1881.4,789.9 1883.4,786.9 1885.4,783.8 1887.4,780.6 1889.4,777.2 1891.4,773.8 1893.4,770.2 1895.4,766.5 1897.4,762.6 1899.4,758.7 1901.4,754.7 1903.4,750.6 1905.4,746.5 1907.4,742.3 1909.4,738.0 1911.5,733.7 1913.5,729.4 1915.5,725.0 1917.5,720.7 1919.5,716.4 1921.5,712.1 1923.5,707.9 1925.5,703.8 1927.5,699.8 1929.5,695.8 1931.5,692.0 1933.5,688.3 1935.5,684.8 1937.5,681.5 1939.5,678.3 1941.5,675.4 1943.5,672.6 1945.5,670.1 1947.5,667.9 1949.5,665.9 1951.5,664.1 1953.5,662.7 1955.5,661.5 1957.5,660.6 1959.5,660.0 1961.5,659.7 1963.5,659.7 1965.5,660.0 1967.5,660.6 1969.5,661.5 1971.5,662.7 1973.5,664.2 1975.5,665.9 1977.5,667.9 1979.5,670.1 1981.5,672.6 1983.5,675.4 1985.5,678.3 1987.5,681.5 1989.5,684.8 1991.5,688.4 1993.5,692.0 1995.5,695.8 1997.5,699.8 1999.6,703.8 2001.6,708.0 2003.6,712.2 2005.6,716.4 2007.6,720.7 2009.6,725.1 2011.6,729.4 2013.6,733.7 2015.6,738.0 2017.6,742.3 2019.6,746.5 2021.6,750.7 2023.6,754.8 2025.6,758.8 2027.6,762.7 2029.6,766.5 2031.6,770.2 2033.6,773.8 2035.6,777.3 2037.6,780.6 2039.6,783.8 2041.6,786.9 2043.6,789.9 2045.6,792.7 2047.6,795.4 2049.6,798.0 2051.6,800.4 2053.6,802.7 2055.6,804.9 2057.6,807.0 2059.6,808.9 2061.6,810.7 2063.6,812.4 2065.6,814.0 2067.6,815.4 2069.6,816.8 2071.6,818.1 2073.6,819.3 2075.6,820.3 2077.6,821.4 2079.6,822.3 2081.6,823.1 2083.6,823.9 2085.6,824.6 2087.7,825.3 2089.7,825.9 2091.7,826.4 2093.7,826.9 2095.7,827.3 2097.7,827.7 2099.7,828.1 2101.7,828.4 2103.7,828.7 2105.7,829.0 2107.7,829.2 2109.7,829.4 2111.7,829.6 2113.7,829.8 2115.7,829.9 2117.7,830.1 2119.7,830.2 2121.7,830.3 2123.7,830.4 2125.7,830.5 2127.7,830.5 2129.7,830.6 2131.7,830.7 2133.7,830.7 2135.7,830.7 2137.7,830.8 2139.7,830.8 2141.7,830.8 2143.7,830.9 2145.7,830.9 2147.7,830.9 2149.7,830.9 2151.7,830.9 2153.7,830.9 2155.7,830.9 2157.7,831.0 2159.7,831.0 2161.7,831.0 2163.7,831.0 2165.7,831.0 2167.7,831.0 2169.7,831.0 2171.7,831.0 2173.7,831.0 2175.8,831.0 2177.8,831.0 2179.8,831.0 2181.8,831.0 2183.8,831.0 2185.8,831.0 2187.8,831.0 2189.8,831.0 2191.8,831.0 2193.8,831.0 2195.8,831.0 2197.8,831.0 2199.8,831.0 2201.8,831.0 2203.8,831.0 2205.8,831.0 2207.8,831.0 2209.8,831.0 2211.8,831.0 2213.8,831.0 2215.8,831.0 2217.8,831.0 2219.8,831.0 2221.8,831.0 2223.8,831.0 2225.8,831.0 2227.8,831.0 2229.8,831.0 2231.8,831.0 2233.8,831.0 2235.8,831.0 2237.8,831.0 2239.8,831.0 2241.8,831.0 2243.8,831.0 2245.8,831.0 2247.8,831.0 2249.8,831.0 2251.8,831.0 2253.8,831.0 2255.8,831.0 2257.8,831.0 2259.8,831.0 2261.8,831.0 2263.9,831.0 2265.9,831.0 2267.9,831.0 2269.9,831.0 2271.9,831.0 2273.9,831.0 2275.9,831.0 2277.9,831.0 2279.9,831.0 2281.9,831.0 2283.9,831.0 2285.9,831.0 2287.9,831.0 2289.9,831.0 2291.9,831.0 2293.9,831.0 2295.9,831.0 2297.9,831.0 2299.9,831.0 2301.9,831.0 2303.9,831.0 2305.9,831.0 2307.9,831.0 2309.9,831.0 2311.9,831.0 2313.9,831.0 2315.9,831.0 2317.9,831.0 2319.9,831.0 2321.9,831.0 2323.9,831.0 2325.9,831.0 2327.9,831.0 2329.9,831.0 2331.9,831.0 2333.9,831.0 2335.9,831.0 2337.9,831.0 2339.9,831.0 2341.9,831.0 2343.9,831.0 2345.9,831.0 2347.9,831.0 2349.9,831.0 2352.0,831.0 2354.0,831.0 2356.0,831.0 2358.0,831.0 2360.0,831.0 2362.0,831.0 2364.0,831.0 2366.0,831.0 2368.0,831.0 2370.0,831.0 2372.0,831.0 2374.0,831.0 2376.0,831.0 2378.0,831.0 2380.0,831.0 2382.0,831.0 2384.0,831.0 2386.0,831.0 2388.0,831.0 2390.0,831.0 2392.0,831.0 2394.0,831.0 2396.0,831.0 2398.0,831.0 2400.0,831.0 2402.0,831.0 2404.0,831.0 2406.0,831.0 2408.0,831.0 2410.0,831.0 2412.0,831.0 2414.0,831.0 2416.0,831.0 2418.0,831.0" fill="none" stroke="#00f" stroke-width="9.2" stroke-linejoin="round"/>
<polyline points="1481.0,831.0 1483.0,831.0 1485.0,831.0 1487.0,831.0 1489.0,831.0 1491.0,831.0 1493.0,831.0 1495.0,831.0 1497.0,831.0 1499.0,831.0 1501.0,831.0 1503.0,831.0 1505.0,831.0 1507.0,831.0 1509.0,831.0 1511.0,831.0 1513.0,831.0 1515.0,831.0 1517.0,831.0 1519.0,831.0 1521.0,831.0 1523.0,831.0 1525.0,831.0 1527.0,831.0 1529.0,831.0 1531.0,831.0 1533.0,831.0 1535.0,831.0 1537.0,831.0 1539.0,831.0 1541.0,831.0 1543.0,831.0 1545.0,831.0 1547.0,831.0 1549.0,831.0 1551.0,831.0 1553.0,831.0 1555.0,831.0 1557.0,831.0 1559.1,831.0 1561.1,831.0 1563.1,831.0 1565.1,831.0 1567.1,831.0 1569.1,831.0 1571.1,831.0 1573.1,831.0 1575.1,831.0 1577.1,831.0 1579.1,831.0 1581.1,831.0 1583.1,831.0 1585.1,831.0 1587.1,831.0 1589.1,831.0 1591.1,831.0 1593.1,831.0 1595.1,831.0 1597.1,831.0 1599.1,831.0 1601.1,831.0 1603.1,831.0 1605.1,831.0 1607.1,831.0 1609.1,831.0 1611.1,831.0 1613.1,831.0 1615.1,831.0 1617.1,831.0 1619.1,831.0 1621.1,831.0 1623.1,831.0 1625.1,831.0 1627.1,830.9 1629.1,830.9 1631.1,830.9 1633.1,830.9 1635.1,830.9 1637.1,830.9 1639.1,830.8 1641.1,830.8 1643.1,830.8 1645.1,830.8 1647.2,830.7 1649.2,830.7 1651.2,830.6 1653.2,830.6 1655.2,830.5 1657.2,830.4 1659.2,830.3 1661.2,830.2 1663.2,830.1 1665.2,830.0 1667.2,829.8 1669.2,829.6 1671.2,829.4 1673.2,829.2 1675.2,829.0 1677.2,828.7 1679.2,828.4 1681.2,828.0 1683.2,827.6 1685.2,827.1 1687.2,826.6 1689.2,826.1 1691.2,825.4 1693.2,824.8 1695.2,824.0 1697.2,823.1 1699.2,822.2 1701.2,821.1 1703.2,820.0 1705.2,818.7 1707.2,817.3 1709.2,815.7 1711.2,814.1 1713.2,812.2 1715.2,810.2 1717.2,808.0 1719.2,805.6 1721.2,803.0 1723.2,800.2 1725.2,797.2 1727.2,793.9 1729.2,790.3 1731.2,786.5 1733.2,782.4 1735.3,778.0 1737.3,773.3 1739.3,768.3 1741.3,762.9 1743.3,757.1 1745.3,751.1 1747.3,744.6 1749.3,737.7 1751.3,730.5 1753.3,722.9 1755.3,714.8 1757.3,706.4 1759.3,697.5 1761.3,688.2 1763.3,678.5 1765.3,668.4 1767.3,657.9 1769.3,647.0 1771.3,635.6 1773.3,623.9 1775.3,611.8 1777.3,599.4 1779.3,586.6 1781.3,573.5 1783.3,560.1 1785.3,546.4 1787.3,532.5 1789.3,518.4 1791.3,504.1 1793.3,489.6 1795.3,475.0 1797.3,460.4 1799.3,445.7 1801.3,431.0 1803.3,416.4 1805.3,401.8 1807.3,387.5 1809.3,373.3 1811.3,359.3 1813.3,345.6 1815.3,332.3 1817.3,319.3 1819.3,306.7 1821.3,294.6 1823.4,283.0 1825.4,272.0 1827.4,261.5 1829.4,251.7 1831.4,242.5 1833.4,234.0 1835.4,226.1 1837.4,219.1 1839.4,212.7 1841.4,207.2 1843.4,202.4 1845.4,198.4 1847.4,195.2 1849.4,192.8 1851.4,191.2 1853.4,190.4 1855.4,190.5 1857.4,191.5 1859.4,193.2 1861.4,195.7 1863.4,198.9 1865.4,202.8 1867.4,207.4 1869.4,212.6 1871.4,218.4 1873.4,224.7 1875.4,231.4 1877.4,238.6 1879.4,246.2 1881.4,254.0 1883.4,262.2 1885.4,270.5 1887.4,278.9 1889.4,287.5 1891.4,296.1 1893.4,304.7 1895.4,313.2 1897.4,321.6 1899.4,329.8 1901.4,337.9 1903.4,345.7 1905.4,353.2 1907.4,360.5 1909.4,367.4 1911.5,373.9 1913.5,380.1 1915.5,385.9 1917.5,391.2 1919.5,396.2 1921.5,400.7 1923.5,404.8 1925.5,408.5 1927.5,411.7 1929.5,414.6 1931.5,417.0 1933.5,419.1 1935.5,420.8 1937.5,422.1 1939.5,423.1 1941.5,423.7 1943.5,424.1 1945.5,424.2 1947.5,424.0 1949.5,423.6 1951.5,423.0 1953.5,422.3 1955.5,421.3 1957.5,420.3 1959.5,419.1 1961.5,417.9 1963.5,416.5 1965.5,415.1 1967.5,413.7 1969.5,412.3 1971.5,410.8 1973.5,409.4 1975.5,408.0 1977.5,406.6 1979.5,405.3 1981.5,404.0 1983.5,402.8 1985.5,401.6 1987.5,400.5 1989.5,399.5 1991.5,398.5 1993.5,397.6 1995.5,396.8 1997.5,396.0 1999.6,395.3 2001.6,394.6 2003.6,394.0 2005.6,393.4 2007.6,392.9 2009.6,392.4 2011.6,392.0 2013.6,391.6 2015.6,391.2 2017.6,390.9 2019.6,390.6 2021.6,390.3 2023.6,390.0 2025.6,389.7 2027.6,389.5 2029.6,389.3 2031.6,389.1 2033.6,388.9 2035.6,388.8 2037.6,388.6 2039.6,388.5 2041.6,388.4 2043.6,388.4 2045.6,388.4 2047.6,388.4 2049.6,388.5 2051.6,388.6 2053.6,388.8 2055.6,389.1 2057.6,389.4 2059.6,389.8 2061.6,390.3 2063.6,390.9 2065.6,391.5 2067.6,392.3 2069.6,393.2 2071.6,394.1 2073.6,395.2 2075.6,396.5 2077.6,397.8 2079.6,399.3 2081.6,400.9 2083.6,402.6 2085.6,404.5 2087.7,406.5 2089.7,408.6 2091.7,410.9 2093.7,413.4 2095.7,416.0 2097.7,418.8 2099.7,421.7 2101.7,424.7 2103.7,427.9 2105.7,431.2 2107.7,434.7 2109.7,438.3 2111.7,442.1 2113.7,446.0 2115.7,450.1 2117.7,454.2 2119.7,458.5 2121.7,462.9 2123.7,467.5 2125.7,472.1 2127.7,476.8 2129.7,481.7 2131.7,486.7 2133.7,491.7 2135.7,496.8 2137.7,502.0 2139.7,507.3 2141.7,512.7 2143.7,518.1 2145.7,523.6 2147.7,529.1 2149.7,534.7 2151.7,540.3 2153.7,546.0 2155.7,551.6 2157.7,557.3 2159.7,563.0 2161.7,568.8 2163.7,574.5 2165.7,580.2 2167.7,585.9 2169.7,591.6 2171.7,597.3 2173.7,603.0 2175.8,608.6 2177.8,614.2 2179.8,619.8 2181.8,625.3 2183.8,630.8 2185.8,636.2 2187.8,641.6 2189.8,646.9 2191.8,652.2 2193.8,657.4 2195.8,662.5 2197.8,667.6 2199.8,672.6 2201.8,677.5 2203.8,682.3 2205.8,687.0 2207.8,691.7 2209.8,696.3 2211.8,700.8 2213.8,705.2 2215.8,709.5 2217.8,713.7 2219.8,717.9 2221.8,721.9 2223.8,725.9 2225.8,729.7 2227.8,733.5 2229.8,737.2 2231.8,740.7 2233.8,744.2 2235.8,747.6 2237.8,750.9 2239.8,754.1 2241.8,757.2 2243.8,760.3 2245.8,763.2 2247.8,766.0 2249.8,768.8 2251.8,771.5 2253.8,774.0 2255.8,776.5 2257.8,779.0 2259.8,781.3 2261.8,783.5 2263.9,785.7 2265.9,787.8 2267.9,789.8 2269.9,791.8 2271.9,793.6 2273.9,795.4 2275.9,797.2 2277.9,798.8 2279.9,800.4 2281.9,801.9 2283.9,803.4 2285.9,804.8 2287.9,806.2 2289.9,807.4 2291.9,808.7 2293.9,809.9 2295.9,811.0 2297.9,812.1 2299.9,813.1 2301.9,814.1 2303.9,815.0 2305.9,815.9 2307.9,816.7 2309.9,817.5 2311.9,818.3 2313.9,819.0 2315.9,819.7 2317.9,820.4 2319.9,821.0 2321.9,821.6 2323.9,822.2 2325.9,822.7 2327.9,823.2 2329.9,823.7 2331.9,824.1 2333.9,824.6 2335.9,825.0 2337.9,825.3 2339.9,825.7 2341.9,826.0 2343.9,826.4 2345.9,826.7 2347.9,826.9 2349.9,827.2 2352.0,827.5 2354.0,827.7 2356.0,827.9 2358.0,828.1 2360.0,828.3 2362.0,828.5 2364.0,828.7 2366.0,828.8 2368.0,829.0 2370.0,829.1 2372.0,829.3 2374.0,829.4 2376.0,829.5 2378.0,829.6 2380.0,829.7 2382.0,829.8 2384.0,829.9 2386.0,830.0 2388.0,830.1 2390.0,830.1 2392.0,830.2 2394.0,830.3 2396.0,830.3 2398.0,830.4 2400.0,830.4 2402.0,830.5 2404.0,830.5 2406.0,830.5 2408.0,830.6 2410.0,830.6 2412.0,830.6 2414.0,830.7 2416.0,830.7 2418.0,830.7" fill="none" stroke="#f00" stroke-width="9.2" stroke-linejoin="round"/>
<polyline points="1481.0,831.0 1483.0,831.0 1485.0,831.0 1487.0,831.0 1489.0,831.0 1491.0,831.0 1493.0,831.0 1495.0,831.0 1497.0,831.0 1499.0,831.0 1501.0,831.0 1503.0,831.0 1505.0,831.0 1507.0,831.0 1509.0,831.0 1511.0,831.0 1513.0,831.0 1515.0,831.0 1517.0,831.0 1519.0,831.0 1521.0,831.0 1523.0,831.0 1525.0,831.0 1527.0,831.0 1529.0,831.0 1531.0,831.0 1533.0,831.0 1535.0,831.0 1537.0,831.0 1539.0,831.0 1541.0,831.0 1543.0,831.0 1545.0,831.0 1547.0,831.0 1549.0,831.0 1551.0,831.0 1553.0,831.0 1555.0,831.0 1557.0,831.0 1559.1,831.0 1561.1,831.0 1563.1,831.0 1565.1,831.0 1567.1,831.0 1569.1,831.0 1571.1,831.0 1573.1,831.0 1575.1,831.0 1577.1,831.0 1579.1,831.0 1581.1,831.0 1583.1,831.0 1585.1,831.0 1587.1,831.0 1589.1,831.0 1591.1,831.0 1593.1,831.0 1595.1,831.0 1597.1,831.0 1599.1,831.0 1601.1,831.0 1603.1,831.0 1605.1,831.0 1607.1,831.0 1609.1,831.0 1611.1,831.0 1613.1,831.0 1615.1,831.0 1617.1,831.0 1619.1,831.0 1621.1,831.0 1623.1,831.0 1625.1,831.0 1627.1,830.9 1629.1,830.9 1631.1,830.9 1633.1,830.9 1635.1,830.9 1637.1,830.9 1639.1,830.9 1641.1,830.8 1643.1,830.8 1645.1,830.8 1647.2,830.7 1649.2,830.7 1651.2,830.6 1653.2,830.6 1655.2,830.5 1657.2,830.4 1659.2,830.3 1661.2,830.2 1663.2,830.1 1665.2,830.0 1667.2,829.8 1669.2,829.6 1671.2,829.5 1673.2,829.2 1675.2,829.0 1677.2,828.7 1679.2,828.4 1681.2,828.0 1683.2,827.6 1685.2,827.2 1687.2,826.7 1689.2,826.1 1691.2,825.5 1693.2,824.8 1695.2,824.0 1697.2,823.2 1699.2,822.2 1701.2,821.2 1703.2,820.1 1705.2,818.8 1707.2,817.4 1709.2,815.9 1711.2,814.2 1713.2,812.4 1715.2,810.4 1717.2,808.2 1719.2,805.8 1721.2,803.2 1723.2,800.4 1725.2,797.4 1727.2,794.1 1729.2,790.6 1731.2,786.8 1733.2,782.7 1735.3,778.4 1737.3,773.7 1739.3,768.7 1741.3,763.3 1743.3,757.7 1745.3,751.6 1747.3,745.2 1749.3,738.4 1751.3,731.2 1753.3,723.6 1755.3,715.7 1757.3,707.3 1759.3,698.5 1761.3,689.3 1763.3,679.7 1765.3,669.7 1767.3,659.2 1769.3,648.4 1771.3,637.2 1773.3,625.6 1775.3,613.7 1777.3,601.4 1779.3,588.8 1781.3,575.8 1783.3,562.6 1785.3,549.1 1787.3,535.4 1789.3,521.5 1791.3,507.5 1793.3,493.3 1795.3,479.0 1797.3,464.6 1799.3,450.3 1801.3,436.0 1803.3,421.8 1805.3,407.7 1807.3,393.7 1809.3,380.0 1811.3,366.6 1813.3,353.5 1815.3,340.8 1817.3,328.5 1819.3,316.6 1821.3,305.3 1823.4,294.5 1825.4,284.4 1827.4,274.9 1829.4,266.0 1831.4,257.9 1833.4,250.6 1835.4,244.1 1837.4,238.4 1839.4,233.5 1841.4,229.5 1843.4,226.4 1845.4,224.2 1847.4,222.9 1849.4,222.5 1851.4,223.1 1853.4,224.7 1855.4,227.2 1857.4,230.8 1859.4,235.3 1861.4,240.7 1863.4,247.0 1865.4,254.2 1867.4,262.3 1869.4,271.1 1871.4,280.7 1873.4,291.1 1875.4,302.1 1877.4,313.7 1879.4,325.9 1881.4,338.6 1883.4,351.8 1885.4,365.4 1887.4,379.4 1889.4,393.6 1891.4,408.1 1893.4,422.8 1895.4,437.6 1897.4,452.5 1899.4,467.4 1901.4,482.3 1903.4,497.2 1905.4,511.9 1907.4,526.5 1909.4,540.9 1911.5,555.0 1913.5,568.9 1915.5,582.6 1917.5,595.8 1919.5,608.8 1921.5,621.4 1923.5,633.5 1925.5,645.3 1927.5,656.7 1929.5,667.6 1931.5,678.1 1933.5,688.2 1935.5,697.8 1937.5,707.0 1939.5,715.7 1941.5,724.0 1943.5,731.8 1945.5,739.3 1947.5,746.3 1949.5,752.9 1951.5,759.1 1953.5,764.9 1955.5,770.3 1957.5,775.4 1959.5,780.2 1961.5,784.6 1963.5,788.7 1965.5,792.5 1967.5,796.0 1969.5,799.3 1971.5,802.3 1973.5,805.0 1975.5,807.6 1977.5,809.9 1979.5,812.0 1981.5,813.9 1983.5,815.7 1985.5,817.3 1987.5,818.7 1989.5,820.1 1991.5,821.3 1993.5,822.3 1995.5,823.3 1997.5,824.2 1999.6,825.0 2001.6,825.7 2003.6,826.3 2005.6,826.9 2007.6,827.4 2009.6,827.8 2011.6,828.2 2013.6,828.5 2015.6,828.9 2017.6,829.1 2019.6,829.4 2021.6,829.6 2023.6,829.8 2025.6,829.9 2027.6,830.1 2029.6,830.2 2031.6,830.3 2033.6,830.4 2035.6,830.5 2037.6,830.6 2039.6,830.6 2041.6,830.7 2043.6,830.7 2045.6,830.8 2047.6,830.8 2049.6,830.8 2051.6,830.9 2053.6,830.9 2055.6,830.9 2057.6,830.9 2059.6,830.9 2061.6,830.9 2063.6,830.9 2065.6,831.0 2067.6,831.0 2069.6,831.0 2071.6,831.0 2073.6,831.0 2075.6,831.0 2077.6,831.0 2079.6,831.0 2081.6,831.0 2083.6,831.0 2085.6,831.0 2087.7,831.0 2089.7,831.0 2091.7,831.0 2093.7,831.0 2095.7,831.0 2097.7,831.0 2099.7,831.0 2101.7,831.0 2103.7,831.0 2105.7,831.0 2107.7,831.0 2109.7,831.0 2111.7,831.0 2113.7,831.0 2115.7,831.0 2117.7,831.0 2119.7,831.0 2121.7,831.0 2123.7,831.0 2125.7,831.0 2127.7,831.0 2129.7,831.0 2131.7,831.0 2133.7,831.0 2135.7,831.0 2137.7,831.0 2139.7,831.0 2141.7,831.0 2143.7,831.0 2145.7,831.0 2147.7,831.0 2149.7,831.0 2151.7,831.0 2153.7,831.0 2155.7,831.0 2157.7,831.0 2159.7,831.0 2161.7,831.0 2163.7,831.0 2165.7,831.0 2167.7,831.0 2169.7,831.0 2171.7,831.0 2173.7,831.0 2175.8,831.0 2177.8,831.0 2179.8,831.0 2181.8,831.0 2183.8,831.0 2185.8,831.0 2187.8,831.0 2189.8,831.0 2191.8,831.0 2193.8,831.0 2195.8,831.0 2197.8,831.0 2199.8,831.0 2201.8,831.0 2203.8,831.0 2205.8,831.0 2207.8,831.0 2209.8,831.0 2211.8,831.0 2213.8,831.0 2215.8,831.0 2217.8,831.0 2219.8,831.0 2221.8,831.0 2223.8,831.0 2225.8,831.0 2227.8,831.0 2229.8,831.0 2231.8,831.0 2233.8,831.0 2235.8,831.0 2237.8,831.0 2239.8,831.0 2241.8,831.0 2243.8,831.0 2245.8,831.0 2247.8,831.0 2249.8,831.0 2251.8,831.0 2253.8,831.0 2255.8,831.0 2257.8,831.0 2259.8,831.0 2261.8,831.0 2263.9,831.0 2265.9,831.0 2267.9,831.0 2269.9,831.0 2271.9,831.0 2273.9,831.0 2275.9,831.0 2277.9,831.0 2279.9,831.0 2281.9,831.0 2283.9,831.0 2285.9,831.0 2287.9,831.0 2289.9,831.0 2291.9,831.0 2293.9,831.0 2295.9,831.0 2297.9,831.0 2299.9,831.0 2301.9,831.0 2303.9,831.0 2305.9,831.0 2307.9,831.0 2309.9,831.0 2311.9,831.0 2313.9,831.0 2315.9,831.0 2317.9,831.0 2319.9,831.0 2321.9,831.0 2323.9,831.0 2325.9,831.0 2327.9,831.0 2329.9,831.0 2331.9,831.0 2333.9,831.0 2335.9,831.0 2337.9,831.0 2339.9,831.0 2341.9,831.0 2343.9,831.0 2345.9,831.0 2347.9,831.0 2349.9,831.0 2352.0,831.0 2354.0,831.0 2356.0,831.0 2358.0,831.0 2360.0,831.0 2362.0,831.0 2364.0,831.0 2366.0,831.0 2368.0,831.0 2370.0,831.0 2372.0,831.0 2374.0,831.0 2376.0,831.0 2378.0,831.0 2380.0,831.0 2382.0,831.0 2384.0,831.0 2386.0,831.0 2388.0,831.0 2390.0,831.0 2392.0,831.0 2394.0,831.0 2396.0,831.0 2398.0,831.0 2400.0,831.0 2402.0,831.0 2404.0,831.0 2406.0,831.0 2408.0,831.0 2410.0,831.0 2412.0,831.0 2414.0,831.0 2416.0,831.0 2418.0,831.0" fill="none" stroke="#00f" stroke-width="9.2" stroke-linejoin="round"/>
<rect x="1472.6" y="1132.6" width="942.0999999999999" height="841.5" fill="none" stroke="#000" stroke-width="8.9"/>
<line x1="1472.6" y1="1974.1" x2="1472.6" y2="1981.0" stroke="#000" stroke-width="8.9"/>
<line x1="1629.3" y1="1974.1" x2="1629.3" y2="1990.5" stroke="#000" stroke-width="8.9"/>
<line x1="1786.3" y1="1974.1" x2="1786.3" y2="1981.0" stroke="#000" stroke-width="8.9"/>
<line x1="1943.3" y1="1974.1" x2="1943.3" y2="1990.5" stroke="#000" stroke-width="8.9"/>
<line x1="2100.3" y1="1974.1" x2="2100.3" y2="1981.0" stroke="#000" stroke-width="8.9"/>
<line x1="2257.3" y1="1974.1" x2="2257.3" y2="1990.5" stroke="#000" stroke-width="8.9"/>
<line x1="2414.3" y1="1974.1" x2="2414.3" y2="1981.0" stroke="#000" stroke-width="8.9"/>
<line x1="1472.6" y1="1336.2" x2="1489.5" y2="1336.2" stroke="#000" stroke-width="8.9"/>
<line x1="1472.6" y1="1540.3" x2="1489.5" y2="1540.3" stroke="#000" stroke-width="8.9"/>
<line x1="1472.6" y1="1744.6" x2="1489.5" y2="1744.6" stroke="#000" stroke-width="8.9"/>
<line x1="1472.6" y1="1948.7" x2="1489.5" y2="1948.7" stroke="#000" stroke-width="8.9"/>
<line x1="1472.6" y1="1233.4" x2="1481.0" y2="1233.4" stroke="#000" stroke-width="8.9"/>
<line x1="1472.6" y1="1438.5" x2="1481.0" y2="1438.5" stroke="#000" stroke-width="8.9"/>
<line x1="1472.6" y1="1642.8" x2="1481.0" y2="1642.8" stroke="#000" stroke-width="8.9"/>
<line x1="1472.6" y1="1847.5" x2="1481.0" y2="1847.5" stroke="#000" stroke-width="8.9"/>
<path d="M2405.0 1924.0h26.0v26.0h-26.0zM2389.5 1924.0h26.0v26.0h-26.0zM2374.1 1924.0h26.0v26.0h-26.0zM2358.8 1924.0h26.0v26.0h-26.0zM2343.6 1924.0h26.0v26.0h-26.0zM2328.4 1924.0h26.0v26.0h-26.0zM2313.4 1924.0h26.0v26.0h-26.0zM2298.4 1924.0h26.0v26.0h-26.0zM2283.5 1924.0h26.0v26.0h-26.0zM2268.7 1924.0h26.0v26.0h-26.0zM2254.0 1925.0h26.0v26.0h-26.0zM2239.3 1928.4h26.0v26.0h-26.0zM2224.7 1928.8h26.0v26.0h-26.0zM2210.2 1925.8h26.0v26.0h-26.0zM2195.8 1921.7h26.0v26.0h-26.0zM2181.5 1917.7h26.0v26.0h-26.0zM2167.2 1913.8h26.0v26.0h-26.0zM2153.1 1905.9h26.0v26.0h-26.0zM2139.0 1893.6h26.0v26.0h-26.0zM2124.9 1885.7h26.0v26.0h-26.0zM2111.0 1865.9h26.0v26.0h-26.0zM2097.2 1849.7h26.0v26.0h-26.0zM2083.4 1828.0h26.0v26.0h-26.0zM2069.7 1809.8h26.0v26.0h-26.0zM2056.1 1801.3h26.0v26.0h-26.0zM2042.6 1785.5h26.0v26.0h-26.0zM2029.1 1783.1h26.0v26.0h-26.0zM2015.7 1773.6h26.0v26.0h-26.0zM2002.4 1770.8h26.0v26.0h-26.0zM1989.2 1761.4h26.0v26.0h-26.0zM1976.0 1753.5h26.0v26.0h-26.0zM1962.9 1737.7h26.0v26.0h-26.0zM1949.9 1739.0h26.0v26.0h-26.0zM1936.9 1725.0h26.0v26.0h-26.0zM1924.0 1717.8h26.0v26.0h-26.0zM1911.1 1653.7h26.0v26.0h-26.0zM1898.4 1595.6h26.0v26.0h-26.0zM1885.6 1497.3h26.0v26.0h-26.0zM1873.0 1407.7h26.0v26.0h-26.0zM1860.4 1309.4h26.0v26.0h-26.0zM1847.9 1266.3h26.0v26.0h-26.0zM1835.5 1257.7h26.0v26.0h-26.0zM1823.1 1306.0h26.0v26.0h-26.0zM1810.7 1367.0h26.0v26.0h-26.0zM1798.5 1442.2h26.0v26.0h-26.0zM1786.3 1563.6h26.0v26.0h-26.0zM1774.1 1641.0h26.0v26.0h-26.0zM1762.1 1728.4h26.0v26.0h-26.0zM1750.0 1788.0h26.0v26.0h-26.0zM1738.1 1833.1h26.0v26.0h-26.0zM1726.2 1853.1h26.0v26.0h-26.0zM1714.3 1865.2h26.0v26.0h-26.0zM1702.6 1881.0h26.0v26.0h-26.0zM1690.8 1893.1h26.0v26.0h-26.0zM1679.2 1897.1h26.0v26.0h-26.0zM1667.6 1905.2h26.0v26.0h-26.0zM1656.0 1909.1h26.0v26.0h-26.0zM1644.5 1913.3h26.0v26.0h-26.0zM1633.1 1916.5h26.0v26.0h-26.0zM1621.7 1920.5h26.0v26.0h-26.0zM1610.4 1925.0h26.0v26.0h-26.0zM1599.1 1924.5h26.0v26.0h-26.0zM1587.9 1928.0h26.0v26.0h-26.0zM1576.7 1925.3h26.0v26.0h-26.0zM1565.6 1921.2h26.0v26.0h-26.0zM1554.5 1925.3h26.0v26.0h-26.0zM1543.5 1925.3h26.0v26.0h-26.0zM1532.6 1925.3h26.0v26.0h-26.0zM1521.7 1925.3h26.0v26.0h-26.0zM1510.8 1925.3h26.0v26.0h-26.0zM1500.0 1928.0h26.0v26.0h-26.0zM1489.3 1928.0h26.0v26.0h-26.0zM1478.6 1928.0h26.0v26.0h-26.0zM1468.0 1928.0h26.0v26.0h-26.0z" fill="#000"/>
<polyline points="1481.0,1933.8 1483.0,1933.8 1485.0,1933.8 1487.0,1933.8 1489.0,1933.8 1491.0,1933.8 1493.0,1933.8 1495.0,1933.8 1497.0,1933.8 1499.0,1933.8 1501.0,1933.8 1503.0,1933.8 1505.0,1933.8 1507.0,1933.8 1509.0,1933.8 1511.0,1933.8 1513.0,1933.8 1515.0,1933.8 1517.0,1933.8 1519.0,1933.8 1521.0,1933.8 1523.0,1933.8 1525.0,1933.8 1527.0,1933.8 1529.0,1933.8 1531.0,1933.8 1533.0,1933.8 1535.0,1933.8 1537.0,1933.8 1539.0,1933.8 1541.0,1933.8 1543.0,1933.8 1545.0,1933.8 1547.0,1933.8 1549.0,1933.8 1551.0,1933.8 1553.0,1933.8 1555.0,1933.8 1557.0,1933.8 1559.1,1933.8 1561.1,1933.8 1563.1,1933.8 1565.1,1933.8 1567.1,1933.8 1569.1,1933.8 1571.1,1933.8 1573.1,1933.8 1575.1,1933.8 1577.1,1933.8 1579.1,1933.8 1581.1,1933.8 1583.1,1933.8 1585.1,1933.8 1587.1,1933.8 1589.1,1933.8 1591.1,1933.8 1593.1,1933.8 1595.1,1933.8 1597.1,1933.8 1599.1,1933.8 1601.1,1933.8 1603.1,1933.8 1605.1,1933.8 1607.1,1933.8 1609.1,1933.8 1611.1,1933.8 1613.1,1933.8 1615.1,1933.8 1617.1,1933.8 1619.1,1933.8 1621.1,1933.8 1623.1,1933.8 1625.1,1933.8 1627.1,1933.8 1629.1,1933.8 1631.1,1933.8 1633.1,1933.8 1635.1,1933.8 1637.1,1933.8 1639.1,1933.8 1641.1,1933.8 1643.1,1933.8 1645.1,1933.8 1647.2,1933.8 1649.2,1933.8 1651.2,1933.8 1653.2,1933.8 1655.2,1933.8 1657.2,1933.8 1659.2,1933.8 1661.2,1933.8 1663.2,1933.8 1665.2,1933.8 1667.2,1933.8 1669.2,1933.8 1671.2,1933.8 1673.2,1933.8 1675.2,1933.8 1677.2,1933.8 1679.2,1933.8 1681.2,1933.8 1683.2,1933.8 1685.2,1933.8 1687.2,1933.8 1689.2,1933.8 1691.2,1933.8 1693.2,1933.8 1695.2,1933.8 1697.2,1933.8 1699.2,1933.8 1701.2,1933.8 1703.2,1933.8 1705.2,1933.8 1707.2,1933.8 1709.2,1933.8 1711.2,1933.8 1713.2,1933.8 1715.2,1933.8 1717.2,1933.8 1719.2,1933.8 1721.2,1933.8 1723.2,1933.8 1725.2,1933.8 1727.2,1933.8 1729.2,1933.8 1731.2,1933.8 1733.2,1933.8 1735.3,1933.8 1737.3,1933.8 1739.3,1933.8 1741.3,1933.8 1743.3,1933.8 1745.3,1933.8 1747.3,1933.8 1749.3,1933.8 1751.3,1933.8 1753.3,1933.8 1755.3,1933.8 1757.3,1933.8 1759.3,1933.8 1761.3,1933.8 1763.3,1933.8 1765.3,1933.8 1767.3,1933.8 1769.3,1933.8 1771.3,1933.8 1773.3,1933.8 1775.3,1933.8 1777.3,1933.8 1779.3,1933.8 1781.3,1933.8 1783.3,1933.8 1785.3,1933.8 1787.3,1933.8 1789.3,1933.8 1791.3,1933.8 1793.3,1933.8 1795.3,1933.8 1797.3,1933.8 1799.3,1933.8 1801.3,1933.8 1803.3,1933.8 1805.3,1933.8 1807.3,1933.8 1809.3,1933.8 1811.3,1933.8 1813.3,1933.8 1815.3,1933.8 1817.3,1933.8 1819.3,1933.8 1821.3,1933.8 1823.4,1933.8 1825.4,1933.8 1827.4,1933.8 1829.4,1933.8 1831.4,1933.8 1833.4,1933.8 1835.4,1933.8 1837.4,1933.8 1839.4,1933.8 1841.4,1933.8 1843.4,1933.8 1845.4,1933.8 1847.4,1933.8 1849.4,1933.8 1851.4,1933.8 1853.4,1933.8 1855.4,1933.8 1857.4,1933.8 1859.4,1933.8 1861.4,1933.8 1863.4,1933.8 1865.4,1933.8 1867.4,1933.8 1869.4,1933.8 1871.4,1933.8 1873.4,1933.8 1875.4,1933.8 1877.4,1933.8 1879.4,1933.8 1881.4,1933.8 1883.4,1933.8 1885.4,1933.7 1887.4,1933.7 1889.4,1933.7 1891.4,1933.7 1893.4,1933.7 1895.4,1933.7 1897.4,1933.7 1899.4,1933.6 1901.4,1933.6 1903.4,1933.6 1905.4,1933.6 1907.4,1933.5 1909.4,1933.5 1911.5,1933.4 1913.5,1933.4 1915.5,1933.3 1917.5,1933.3 1919.5,1933.2 1921.5,1933.1 1923.5,1933.0 1925.5,1932.9 1927.5,1932.8 1929.5,1932.6 1931.5,1932.5 1933.5,1932.3 1935.5,1932.1 1937.5,1931.9 1939.5,1931.7 1941.5,1931.5 1943.5,1931.2 1945.5,1930.9 1947.5,1930.6 1949.5,1930.2 1951.5,1929.8 1953.5,1929.4 1955.5,1928.9 1957.5,1928.4 1959.5,1927.8 1961.5,1927.2 1963.5,1926.6 1965.5,1925.9 1967.5,1925.1 1969.5,1924.3 1971.5,1923.5 1973.5,1922.6 1975.5,1921.6 1977.5,1920.5 1979.5,1919.4 1981.5,1918.2 1983.5,1917.0 1985.5,1915.7 1987.5,1914.3 1989.5,1912.8 1991.5,1911.3 1993.5,1909.7 1995.5,1908.0 1997.5,1906.2 1999.6,1904.4 2001.6,1902.5 2003.6,1900.6 2005.6,1898.5 2007.6,1896.5 2009.6,1894.3 2011.6,1892.1 2013.6,1889.9 2015.6,1887.6 2017.6,1885.3 2019.6,1883.0 2021.6,1880.6 2023.6,1878.2 2025.6,1875.8 2027.6,1873.4 2029.6,1871.0 2031.6,1868.7 2033.6,1866.3 2035.6,1864.0 2037.6,1861.7 2039.6,1859.5 2041.6,1857.3 2043.6,1855.2 2045.6,1853.1 2047.6,1851.2 2049.6,1849.3 2051.6,1847.6 2053.6,1846.0 2055.6,1844.4 2057.6,1843.0 2059.6,1841.8 2061.6,1840.6 2063.6,1839.7 2065.6,1838.8 2067.6,1838.1 2069.6,1837.6 2071.6,1837.3 2073.6,1837.0 2075.6,1837.0 2077.6,1837.1 2079.6,1837.4 2081.6,1837.8 2083.6,1838.4 2085.6,1839.2 2087.7,1840.1 2089.7,1841.1 2091.7,1842.3 2093.7,1843.6 2095.7,1845.1 2097.7,1846.7 2099.7,1848.3 2101.7,1850.1 2103.7,1852.0 2105.7,1854.0 2107.7,1856.1 2109.7,1858.2 2111.7,1860.4 2113.7,1862.7 2115.7,1865.0 2117.7,1867.3 2119.7,1869.7 2121.7,1872.1 2123.7,1874.5 2125.7,1876.9 2127.7,1879.3 2129.7,1881.6 2131.7,1884.0 2133.7,1886.3 2135.7,1888.6 2137.7,1890.9 2139.7,1893.1 2141.7,1895.3 2143.7,1897.4 2145.7,1899.4 2147.7,1901.4 2149.7,1903.3 2151.7,1905.2 2153.7,1907.0 2155.7,1908.7 2157.7,1910.4 2159.7,1911.9 2161.7,1913.4 2163.7,1914.9 2165.7,1916.2 2167.7,1917.5 2169.7,1918.8 2171.7,1919.9 2173.7,1921.0 2175.8,1922.0 2177.8,1923.0 2179.8,1923.9 2181.8,1924.7 2183.8,1925.5 2185.8,1926.2 2187.8,1926.9 2189.8,1927.5 2191.8,1928.1 2193.8,1928.6 2195.8,1929.1 2197.8,1929.6 2199.8,1930.0 2201.8,1930.4 2203.8,1930.7 2205.8,1931.0 2207.8,1931.3 2209.8,1931.6 2211.8,1931.8 2213.8,1932.0 2215.8,1932.2 2217.8,1932.4 2219.8,1932.6 2221.8,1932.7 2223.8,1932.8 2225.8,1932.9 2227.8,1933.0 2229.8,1933.1 2231.8,1933.2 2233.8,1933.3 2235.8,1933.4 2237.8,1933.4 2239.8,1933.5 2241.8,1933.5 2243.8,1933.5 2245.8,1933.6 2247.8,1933.6 2249.8,1933.6 2251.8,1933.7 2253.8,1933.7 2255.8,1933.7 2257.8,1933.7 2259.8,1933.7 2261.8,1933.7 2263.9,1933.7 2265.9,1933.8 2267.9,1933.8 2269.9,1933.8 2271.9,1933.8 2273.9,1933.8 2275.9,1933.8 2277.9,1933.8 2279.9,1933.8 2281.9,1933.8 2283.9,1933.8 2285.9,1933.8 2287.9,1933.8 2289.9,1933.8 2291.9,1933.8 2293.9,1933.8 2295.9,1933.8 2297.9,1933.8 2299.9,1933.8 2301.9,1933.8 2303.9,1933.8 2305.9,1933.8 2307.9,1933.8 2309.9,1933.8 2311.9,1933.8 2313.9,1933.8 2315.9,1933.8 2317.9,1933.8 2319.9,1933.8 2321.9,1933.8 2323.9,1933.8 2325.9,1933.8 2327.9,1933.8 2329.9,1933.8 2331.9,1933.8 2333.9,1933.8 2335.9,1933.8 2337.9,1933.8 2339.9,1933.8 2341.9,1933.8 2343.9,1933.8 2345.9,1933.8 2347.9,1933.8 2349.9,1933.8 2352.0,1933.8 2354.0,1933.8 2356.0,1933.8 2358.0,1933.8 2360.0,1933.8 2362.0,1933.8 2364.0,1933.8 2366.0,1933.8 2368.0,1933.8 2370.0,1933.8 2372.0,1933.8 2374.0,1933.8 2376.0,1933.8 2378.0,1933.8 2380.0,1933.8 2382.0,1933.8 2384.0,1933.8 2386.0,1933.8 2388.0,1933.8 2390.0,1933.8 2392.0,1933.8 2394.0,1933.8 2396.0,1933.8 2398.0,1933.8 2400.0,1933.8 2402.0,1933.8 2404.0,1933.8 2406.0,1933.8 2408.0,1933.8 2410.0,1933.8 2412.0,1933.8 2414.0,1933.8 2416.0,1933.8 2418.0,1933.8" fill="none" stroke="#00f" stroke-width="9.2" stroke-linejoin="round"/>
<polyline points="1481.0,1933.8 1483.0,1933.8 1485.0,1933.8 1487.0,1933.8 1489.0,1933.8 1491.0,1933.8 1493.0,1933.8 1495.0,1933.8 1497.0,1933.8 1499.0,1933.8 1501.0,1933.8 1503.0,1933.8 1505.0,1933.8 1507.0,1933.8 1509.0,1933.8 1511.0,1933.8 1513.0,1933.8 1515.0,1933.8 1517.0,1933.8 1519.0,1933.8 1521.0,1933.8 1523.0,1933.8 1525.0,1933.8 1527.0,1933.8 1529.0,1933.8 1531.0,1933.8 1533.0,1933.8 1535.0,1933.8 1537.0,1933.8 1539.0,1933.8 1541.0,1933.8 1543.0,1933.8 1545.0,1933.8 1547.0,1933.8 1549.0,1933.8 1551.0,1933.8 1553.0,1933.8 1555.0,1933.8 1557.0,1933.8 1559.1,1933.8 1561.1,1933.8 1563.1,1933.8 1565.1,1933.8 1567.1,1933.8 1569.1,1933.8 1571.1,1933.8 1573.1,1933.8 1575.1,1933.8 1577.1,1933.8 1579.1,1933.8 1581.1,1933.8 1583.1,1933.8 1585.1,1933.8 1587.1,1933.8 1589.1,1933.8 1591.1,1933.8 1593.1,1933.8 1595.1,1933.8 1597.1,1933.8 1599.1,1933.8 1601.1,1933.8 1603.1,1933.8 1605.1,1933.8 1607.1,1933.8 1609.1,1933.8 1611.1,1933.8 1613.1,1933.8 1615.1,1933.8 1617.1,1933.8 1619.1,1933.8 1621.1,1933.8 1623.1,1933.8 1625.1,1933.8 1627.1,1933.8 1629.1,1933.8 1631.1,1933.8 1633.1,1933.8 1635.1,1933.8 1637.1,1933.8 1639.1,1933.8 1641.1,1933.8 1643.1,1933.8 1645.1,1933.8 1647.2,1933.8 1649.2,1933.8 1651.2,1933.8 1653.2,1933.8 1655.2,1933.8 1657.2,1933.8 1659.2,1933.8 1661.2,1933.8 1663.2,1933.8 1665.2,1933.8 1667.2,1933.8 1669.2,1933.8 1671.2,1933.8 1673.2,1933.8 1675.2,1933.8 1677.2,1933.8 1679.2,1933.8 1681.2,1933.8 1683.2,1933.8 1685.2,1933.8 1687.2,1933.8 1689.2,1933.8 1691.2,1933.8 1693.2,1933.8 1695.2,1933.8 1697.2,1933.8 1699.2,1933.8 1701.2,1933.8 1703.2,1933.8 1705.2,1933.8 1707.2,1933.8 1709.2,1933.8 1711.2,1933.8 1713.2,1933.8 1715.2,1933.8 1717.2,1933.8 1719.2,1933.8 1721.2,1933.7 1723.2,1933.7 1725.2,1933.7 1727.2,1933.7 1729.2,1933.7 1731.2,1933.7 1733.2,1933.7 1735.3,1933.7 1737.3,1933.7 1739.3,1933.6 1741.3,1933.6 1743.3,1933.6 1745.3,1933.6 1747.3,1933.5 1749.3,1933.5 1751.3,1933.5 1753.3,1933.4 1755.3,1933.4 1757.3,1933.4 1759.3,1933.3 1761.3,1933.2 1763.3,1933.2 1765.3,1933.1 1767.3,1933.0 1769.3,1932.9 1771.3,1932.9 1773.3,1932.8 1775.3,1932.6 1777.3,1932.5 1779.3,1932.4 1781.3,1932.2 1783.3,1932.1 1785.3,1931.9 1787.3,1931.7 1789.3,1931.5 1791.3,1931.3 1793.3,1931.0 1795.3,1930.8 1797.3,1930.5 1799.3,1930.2 1801.3,1929.9 1803.3,1929.5 1805.3,1929.1 1807.3,1928.7 1809.3,1928.3 1811.3,1927.8 1813.3,1927.3 1815.3,1926.8 1817.3,1926.2 1819.3,1925.6 1821.3,1924.9 1823.4,1924.2 1825.4,1923.4 1827.4,1922.7 1829.4,1921.8 1831.4,1920.9 1833.4,1920.0 1835.4,1919.0 1837.4,1918.0 1839.4,1916.9 1841.4,1915.7 1843.4,1914.5 1845.4,1913.2 1847.4,1911.9 1849.4,1910.5 1851.4,1909.0 1853.4,1907.5 1855.4,1905.9 1857.4,1904.3 1859.4,1902.5 1861.4,1900.8 1863.4,1898.9 1865.4,1897.0 1867.4,1895.0 1869.4,1893.0 1871.4,1890.9 1873.4,1888.8 1875.4,1886.6 1877.4,1884.3 1879.4,1882.0 1881.4,1879.7 1883.4,1877.3 1885.4,1874.8 1887.4,1872.3 1889.4,1869.8 1891.4,1867.2 1893.4,1864.7 1895.4,1862.0 1897.4,1859.4 1899.4,1856.8 1901.4,1854.1 1903.4,1851.5 1905.4,1848.8 1907.4,1846.2 1909.4,1843.6 1911.5,1841.0 1913.5,1838.4 1915.5,1835.9 1917.5,1833.4 1919.5,1831.0 1921.5,1828.6 1923.5,1826.2 1925.5,1824.0 1927.5,1821.8 1929.5,1819.7 1931.5,1817.6 1933.5,1815.7 1935.5,1813.8 1937.5,1812.1 1939.5,1810.5 1941.5,1809.0 1943.5,1807.6 1945.5,1806.3 1947.5,1805.1 1949.5,1804.1 1951.5,1803.2 1953.5,1802.5 1955.5,1801.9 1957.5,1801.4 1959.5,1801.0 1961.5,1800.9 1963.5,1800.8 1965.5,1800.9 1967.5,1801.1 1969.5,1801.5 1971.5,1802.0 1973.5,1802.7 1975.5,1803.5 1977.5,1804.4 1979.5,1805.5 1981.5,1806.7 1983.5,1808.0 1985.5,1809.4 1987.5,1811.0 1989.5,1812.6 1991.5,1814.4 1993.5,1816.3 1995.5,1818.2 1997.5,1820.3 1999.6,1822.4 2001.6,1824.7 2003.6,1826.9 2005.6,1829.3 2007.6,1831.7 2009.6,1834.2 2011.6,1836.7 2013.6,1839.2 2015.6,1841.8 2017.6,1844.4 2019.6,1847.0 2021.6,1849.7 2023.6,1852.3 2025.6,1855.0 2027.6,1857.6 2029.6,1860.2 2031.6,1862.9 2033.6,1865.5 2035.6,1868.0 2037.6,1870.6 2039.6,1873.1 2041.6,1875.6 2043.6,1878.0 2045.6,1880.4 2047.6,1882.7 2049.6,1885.0 2051.6,1887.3 2053.6,1889.5 2055.6,1891.6 2057.6,1893.7 2059.6,1895.7 2061.6,1897.6 2063.6,1899.5 2065.6,1901.3 2067.6,1903.1 2069.6,1904.8 2071.6,1906.4 2073.6,1908.0 2075.6,1909.5 2077.6,1910.9 2079.6,1912.3 2081.6,1913.6 2083.6,1914.9 2085.6,1916.1 2087.7,1917.2 2089.7,1918.3 2091.7,1919.3 2093.7,1920.3 2095.7,1921.2 2097.7,1922.1 2099.7,1922.9 2101.7,1923.7 2103.7,1924.4 2105.7,1925.1 2107.7,1925.8 2109.7,1926.4 2111.7,1926.9 2113.7,1927.5 2115.7,1928.0 2117.7,1928.4 2119.7,1928.8 2121.7,1929.3 2123.7,1929.6 2125.7,1930.0 2127.7,1930.3 2129.7,1930.6 2131.7,1930.9 2133.7,1931.1 2135.7,1931.4 2137.7,1931.6 2139.7,1931.8 2141.7,1932.0 2143.7,1932.1 2145.7,1932.3 2147.7,1932.4 2149.7,1932.6 2151.7,1932.7 2153.7,1932.8 2155.7,1932.9 2157.7,1933.0 2159.7,1933.1 2161.7,1933.1 2163.7,1933.2 2165.7,1933.3 2167.7,1933.3 2169.7,1933.4 2171.7,1933.4 2173.7,1933.5 2175.8,1933.5 2177.8,1933.5 2179.8,1933.6 2181.8,1933.6 2183.8,1933.6 2185.8,1933.6 2187.8,1933.6 2189.8,1933.7 2191.8,1933.7 2193.8,1933.7 2195.8,1933.7 2197.8,1933.7 2199.8,1933.7 2201.8,1933.7 2203.8,1933.7 2205.8,1933.8 2207.8,1933.8 2209.8,1933.8 2211.8,1933.8 2213.8,1933.8 2215.8,1933.8 2217.8,1933.8 2219.8,1933.8 2221.8,1933.8 2223.8,1933.8 2225.8,1933.8 2227.8,1933.8 2229.8,1933.8 2231.8,1933.8 2233.8,1933.8 2235.8,1933.8 2237.8,1933.8 2239.8,1933.8 2241.8,1933.8 2243.8,1933.8 2245.8,1933.8 2247.8,1933.8 2249.8,1933.8 2251.8,1933.8 2253.8,1933.8 2255.8,1933.8 2257.8,1933.8 2259.8,1933.8 2261.8,1933.8 2263.9,1933.8 2265.9,1933.8 2267.9,1933.8 2269.9,1933.8 2271.9,1933.8 2273.9,1933.8 2275.9,1933.8 2277.9,1933.8 2279.9,1933.8 2281.9,1933.8 2283.9,1933.8 2285.9,1933.8 2287.9,1933.8 2289.9,1933.8 2291.9,1933.8 2293.9,1933.8 2295.9,1933.8 2297.9,1933.8 2299.9,1933.8 2301.9,1933.8 2303.9,1933.8 2305.9,1933.8 2307.9,1933.8 2309.9,1933.8 2311.9,1933.8 2313.9,1933.8 2315.9,1933.8 2317.9,1933.8 2319.9,1933.8 2321.9,1933.8 2323.9,1933.8 2325.9,1933.8 2327.9,1933.8 2329.9,1933.8 2331.9,1933.8 2333.9,1933.8 2335.9,1933.8 2337.9,1933.8 2339.9,1933.8 2341.9,1933.8 2343.9,1933.8 2345.9,1933.8 2347.9,1933.8 2349.9,1933.8 2352.0,1933.8 2354.0,1933.8 2356.0,1933.8 2358.0,1933.8 2360.0,1933.8 2362.0,1933.8 2364.0,1933.8 2366.0,1933.8 2368.0,1933.8 2370.0,1933.8 2372.0,1933.8 2374.0,1933.8 2376.0,1933.8 2378.0,1933.8 2380.0,1933.8 2382.0,1933.8 2384.0,1933.8 2386.0,1933.8 2388.0,1933.8 2390.0,1933.8 2392.0,1933.8 2394.0,1933.8 2396.0,1933.8 2398.0,1933.8 2400.0,1933.8 2402.0,1933.8 2404.0,1933.8 2406.0,1933.8 2408.0,1933.8 2410.0,1933.8 2412.0,1933.8 2414.0,1933.8 2416.0,1933.8 2418.0,1933.8" fill="none" stroke="#00f" stroke-width="9.2" stroke-linejoin="round"/>
<polyline points="1481.0,1933.8 1483.0,1933.8 1485.0,1933.8 1487.0,1933.8 1489.0,1933.8 1491.0,1933.8 1493.0,1933.8 1495.0,1933.8 1497.0,1933.8 1499.0,1933.8 1501.0,1933.8 1503.0,1933.8 1505.0,1933.8 1507.0,1933.8 1509.0,1933.8 1511.0,1933.8 1513.0,1933.8 1515.0,1933.8 1517.0,1933.8 1519.0,1933.8 1521.0,1933.8 1523.0,1933.8 1525.0,1933.8 1527.0,1933.8 1529.0,1933.8 1531.0,1933.8 1533.0,1933.8 1535.0,1933.8 1537.0,1933.8 1539.0,1933.8 1541.0,1933.8 1543.0,1933.8 1545.0,1933.8 1547.0,1933.8 1549.0,1933.8 1551.0,1933.8 1553.0,1933.8 1555.0,1933.8 1557.0,1933.8 1559.1,1933.8 1561.1,1933.8 1563.1,1933.8 1565.1,1933.8 1567.1,1933.8 1569.1,1933.8 1571.1,1933.8 1573.1,1933.8 1575.1,1933.8 1577.1,1933.8 1579.1,1933.8 1581.1,1933.8 1583.1,1933.8 1585.1,1933.8 1587.1,1933.8 1589.1,1933.8 1591.1,1933.8 1593.1,1933.8 1595.1,1933.8 1597.1,1933.8 1599.1,1933.8 1601.1,1933.8 1603.1,1933.8 1605.1,1933.8 1607.1,1933.8 1609.1,1933.8 1611.1,1933.8 1613.1,1933.8 1615.1,1933.8 1617.1,1933.8 1619.1,1933.8 1621.1,1933.8 1623.1,1933.8 1625.1,1933.8 1627.1,1933.8 1629.1,1933.8 1631.1,1933.8 1633.1,1933.8 1635.1,1933.7 1637.1,1933.7 1639.1,1933.7 1641.1,1933.7 1643.1,1933.7 1645.1,1933.7 1647.2,1933.6 1649.2,1933.6 1651.2,1933.6 1653.2,1933.6 1655.2,1933.5 1657.2,1933.5 1659.2,1933.4 1661.2,1933.3 1663.2,1933.3 1665.2,1933.2 1667.2,1933.1 1669.2,1932.9 1671.2,1932.8 1673.2,1932.7 1675.2,1932.5 1677.2,1932.3 1679.2,1932.1 1681.2,1931.8 1683.2,1931.5 1685.2,1931.2 1687.2,1930.8 1689.2,1930.4 1691.2,1929.9 1693.2,1929.4 1695.2,1928.8 1697.2,1928.1 1699.2,1927.4 1701.2,1926.5 1703.2,1925.6 1705.2,1924.6 1707.2,1923.4 1709.2,1922.1 1711.2,1920.7 1713.2,1919.2 1715.2,1917.5 1717.2,1915.6 1719.2,1913.6 1721.2,1911.3 1723.2,1908.8 1725.2,1906.2 1727.2,1903.2 1729.2,1900.0 1731.2,1896.6 1733.2,1892.9 1735.3,1888.8 1737.3,1884.5 1739.3,1879.8 1741.3,1874.8 1743.3,1869.4 1745.3,1863.6 1747.3,1857.4 1749.3,1850.8 1751.3,1843.8 1753.3,1836.4 1755.3,1828.5 1757.3,1820.2 1759.3,1811.4 1761.3,1802.2 1763.3,1792.5 1765.3,1782.3 1767.3,1771.7 1769.3,1760.6 1771.3,1749.0 1773.3,1737.0 1775.3,1724.5 1777.3,1711.6 1779.3,1698.3 1781.3,1684.6 1783.3,1670.5 1785.3,1656.1 1787.3,1641.3 1789.3,1626.3 1791.3,1611.0 1793.3,1595.6 1795.3,1579.9 1797.3,1564.1 1799.3,1548.3 1801.3,1532.4 1803.3,1516.5 1805.3,1500.7 1807.3,1485.0 1809.3,1469.5 1811.3,1454.2 1813.3,1439.2 1815.3,1424.6 1817.3,1410.4 1819.3,1396.6 1821.3,1383.3 1823.4,1370.6 1825.4,1358.5 1827.4,1347.0 1829.4,1336.3 1831.4,1326.3 1833.4,1317.2 1835.4,1308.8 1837.4,1301.3 1839.4,1294.7 1841.4,1289.1 1843.4,1284.4 1845.4,1280.6 1847.4,1277.8 1849.4,1276.0 1851.4,1275.2 1853.4,1275.4 1855.4,1276.6 1857.4,1278.9 1859.4,1282.2 1861.4,1286.4 1863.4,1291.6 1865.4,1297.6 1867.4,1304.6 1869.4,1312.3 1871.4,1320.8 1873.4,1330.0 1875.4,1339.9 1877.4,1350.5 1879.4,1361.5 1881.4,1373.1 1883.4,1385.1 1885.4,1397.5 1887.4,1410.2 1889.4,1423.1 1891.4,1436.3 1893.4,1449.5 1895.4,1462.9 1897.4,1476.3 1899.4,1489.7 1901.4,1503.0 1903.4,1516.2 1905.4,1529.2 1907.4,1542.1 1909.4,1554.7 1911.5,1567.0 1913.5,1579.0 1915.5,1590.7 1917.5,1602.0 1919.5,1613.0 1921.5,1623.5 1923.5,1633.7 1925.5,1643.5 1927.5,1652.8 1929.5,1661.8 1931.5,1670.3 1933.5,1678.4 1935.5,1686.0 1937.5,1693.3 1939.5,1700.2 1941.5,1706.7 1943.5,1712.8 1945.5,1718.5 1947.5,1723.9 1949.5,1729.0 1951.5,1733.7 1953.5,1738.2 1955.5,1742.3 1957.5,1746.2 1959.5,1749.8 1961.5,1753.2 1963.5,1756.4 1965.5,1759.3 1967.5,1762.1 1969.5,1764.6 1971.5,1767.0 1973.5,1769.3 1975.5,1771.4 1977.5,1773.3 1979.5,1775.2 1981.5,1776.9 1983.5,1778.5 1985.5,1780.0 1987.5,1781.5 1989.5,1782.8 1991.5,1784.1 1993.5,1785.2 1995.5,1786.3 1997.5,1787.4 1999.6,1788.3 2001.6,1789.2 2003.6,1790.1 2005.6,1790.9 2007.6,1791.6 2009.6,1792.3 2011.6,1792.9 2013.6,1793.5 2015.6,1794.1 2017.6,1794.6 2019.6,1795.0 2021.6,1795.5 2023.6,1795.9 2025.6,1796.2 2027.6,1796.6 2029.6,1796.9 2031.6,1797.2 2033.6,1797.6 2035.6,1797.9 2037.6,1798.2 2039.6,1798.5 2041.6,1798.8 2043.6,1799.2 2045.6,1799.6 2047.6,1800.0 2049.6,1800.5 2051.6,1801.0 2053.6,1801.5 2055.6,1802.2 2057.6,1802.8 2059.6,1803.6 2061.6,1804.4 2063.6,1805.3 2065.6,1806.3 2067.6,1807.4 2069.6,1808.6 2071.6,1809.8 2073.6,1811.2 2075.6,1812.7 2077.6,1814.2 2079.6,1815.9 2081.6,1817.6 2083.6,1819.5 2085.6,1821.4 2087.7,1823.5 2089.7,1825.6 2091.7,1827.8 2093.7,1830.1 2095.7,1832.5 2097.7,1834.9 2099.7,1837.5 2101.7,1840.0 2103.7,1842.6 2105.7,1845.3 2107.7,1848.0 2109.7,1850.8 2111.7,1853.6 2113.7,1856.3 2115.7,1859.1 2117.7,1861.9 2119.7,1864.7 2121.7,1867.5 2123.7,1870.3 2125.7,1873.0 2127.7,1875.8 2129.7,1878.4 2131.7,1881.1 2133.7,1883.7 2135.7,1886.2 2137.7,1888.7 2139.7,1891.1 2141.7,1893.4 2143.7,1895.7 2145.7,1897.9 2147.7,1900.1 2149.7,1902.1 2151.7,1904.1 2153.7,1906.0 2155.7,1907.8 2157.7,1909.5 2159.7,1911.2 2161.7,1912.8 2163.7,1914.3 2165.7,1915.7 2167.7,1917.1 2169.7,1918.3 2171.7,1919.5 2173.7,1920.6 2175.8,1921.7 2177.8,1922.7 2179.8,1923.6 2181.8,1924.5 2183.8,1925.3 2185.8,1926.0 2187.8,1926.7 2189.8,1927.4 2191.8,1928.0 2193.8,1928.5 2195.8,1929.0 2197.8,1929.5 2199.8,1929.9 2201.8,1930.3 2203.8,1930.6 2205.8,1931.0 2207.8,1931.3 2209.8,1931.5 2211.8,1931.8 2213.8,1932.0 2215.8,1932.2 2217.8,1932.4 2219.8,1932.5 2221.8,1932.7 2223.8,1932.8 2225.8,1932.9 2227.8,1933.0 2229.8,1933.1 2231.8,1933.2 2233.8,1933.3 2235.8,1933.3 2237.8,1933.4 2239.8,1933.5 2241.8,1933.5 2243.8,1933.5 2245.8,1933.6 2247.8,1933.6 2249.8,1933.6 2251.8,1933.7 2253.8,1933.7 2255.8,1933.7 2257.8,1933.7 2259.8,1933.7 2261.8,1933.7 2263.9,1933.7 2265.9,1933.7 2267.9,1933.8 2269.9,1933.8 2271.9,1933.8 2273.9,1933.8 2275.9,1933.8 2277.9,1933.8 2279.9,1933.8 2281.9,1933.8 2283.9,1933.8 2285.9,1933.8 2287.9,1933.8 2289.9,1933.8 2291.9,1933.8 2293.9,1933.8 2295.9,1933.8 2297.9,1933.8 2299.9,1933.8 2301.9,1933.8 2303.9,1933.8 2305.9,1933.8 2307.9,1933.8 2309.9,1933.8 2311.9,1933.8 2313.9,1933.8 2315.9,1933.8 2317.9,1933.8 2319.9,1933.8 2321.9,1933.8 2323.9,1933.8 2325.9,1933.8 2327.9,1933.8 2329.9,1933.8 2331.9,1933.8 2333.9,1933.8 2335.9,1933.8 2337.9,1933.8 2339.9,1933.8 2341.9,1933.8 2343.9,1933.8 2345.9,1933.8 2347.9,1933.8 2349.9,1933.8 2352.0,1933.8 2354.0,1933.8 2356.0,1933.8 2358.0,1933.8 2360.0,1933.8 2362.0,1933.8 2364.0,1933.8 2366.0,1933.8 2368.0,1933.8 2370.0,1933.8 2372.0,1933.8 2374.0,1933.8 2376.0,1933.8 2378.0,1933.8 2380.0,1933.8 2382.0,1933.8 2384.0,1933.8 2386.0,1933.8 2388.0,1933.8 2390.0,1933.8 2392.0,1933.8 2394.0,1933.8 2396.0,1933.8 2398.0,1933.8 2400.0,1933.8 2402.0,1933.8 2404.0,1933.8 2406.0,1933.8 2408.0,1933.8 2410.0,1933.8 2412.0,1933.8 2414.0,1933.8 2416.0,1933.8 2418.0,1933.8" fill="none" stroke="#f00" stroke-width="9.2" stroke-linejoin="round"/>
<polyline points="1481.0,1933.8 1483.0,1933.8 1485.0,1933.8 1487.0,1933.8 1489.0,1933.8 1491.0,1933.8 1493.0,1933.8 1495.0,1933.8 1497.0,1933.8 1499.0,1933.8 1501.0,1933.8 1503.0,1933.8 1505.0,1933.8 1507.0,1933.8 1509.0,1933.8 1511.0,1933.8 1513.0,1933.8 1515.0,1933.8 1517.0,1933.8 1519.0,1933.8 1521.0,1933.8 1523.0,1933.8 1525.0,1933.8 1527.0,1933.8 1529.0,1933.8 1531.0,1933.8 1533.0,1933.8 1535.0,1933.8 1537.0,1933.8 1539.0,1933.8 1541.0,1933.8 1543.0,1933.8 1545.0,1933.8 1547.0,1933.8 1549.0,1933.8 1551.0,1933.8 1553.0,1933.8 1555.0,1933.8 1557.0,1933.8 1559.1,1933.8 1561.1,1933.8 1563.1,1933.8 1565.1,1933.8 1567.1,1933.8 1569.1,1933.8 1571.1,1933.8 1573.1,1933.8 1575.1,1933.8 1577.1,1933.8 1579.1,1933.8 1581.1,1933.8 1583.1,1933.8 1585.1,1933.8 1587.1,1933.8 1589.1,1933.8 1591.1,1933.8 1593.1,1933.8 1595.1,1933.8 1597.1,1933.8 1599.1,1933.8 1601.1,1933.8 1603.1,1933.8 1605.1,1933.8 1607.1,1933.8 1609.1,1933.8 1611.1,1933.8 1613.1,1933.8 1615.1,1933.8 1617.1,1933.8 1619.1,1933.8 1621.1,1933.8 1623.1,1933.8 1625.1,1933.8 1627.1,1933.8 1629.1,1933.8 1631.1,1933.8 1633.1,1933.8 1635.1,1933.7 1637.1,1933.7 1639.1,1933.7 1641.1,1933.7 1643.1,1933.7 1645.1,1933.7 1647.2,1933.6 1649.2,1933.6 1651.2,1933.6 1653.2,1933.6 1655.2,1933.5 1657.2,1933.5 1659.2,1933.4 1661.2,1933.3 1663.2,1933.3 1665.2,1933.2 1667.2,1933.1 1669.2,1932.9 1671.2,1932.8 1673.2,1932.7 1675.2,1932.5 1677.2,1932.3 1679.2,1932.1 1681.2,1931.8 1683.2,1931.5 1685.2,1931.2 1687.2,1930.8 1689.2,1930.4 1691.2,1929.9 1693.2,1929.4 1695.2,1928.8 1697.2,1928.1 1699.2,1927.4 1701.2,1926.5 1703.2,1925.6 1705.2,1924.6 1707.2,1923.4 1709.2,1922.2 1711.2,1920.8 1713.2,1919.2 1715.2,1917.5 1717.2,1915.6 1719.2,1913.6 1721.2,1911.3 1723.2,1908.9 1725.2,1906.2 1727.2,1903.3 1729.2,1900.1 1731.2,1896.7 1733.2,1893.0 1735.3,1889.0 1737.3,1884.6 1739.3,1880.0 1741.3,1874.9 1743.3,1869.6 1745.3,1863.8 1747.3,1857.7 1749.3,1851.1 1751.3,1844.2 1753.3,1836.8 1755.3,1828.9 1757.3,1820.7 1759.3,1811.9 1761.3,1802.8 1763.3,1793.1 1765.3,1783.0 1767.3,1772.4 1769.3,1761.4 1771.3,1749.9 1773.3,1738.0 1775.3,1725.6 1777.3,1712.9 1779.3,1699.7 1781.3,1686.1 1783.3,1672.2 1785.3,1658.0 1787.3,1643.4 1789.3,1628.6 1791.3,1613.6 1793.3,1598.3 1795.3,1582.9 1797.3,1567.4 1799.3,1551.9 1801.3,1536.3 1803.3,1520.8 1805.3,1505.4 1807.3,1490.1 1809.3,1475.0 1811.3,1460.2 1813.3,1445.7 1815.3,1431.6 1817.3,1418.0 1819.3,1404.8 1821.3,1392.2 1823.4,1380.2 1825.4,1368.8 1827.4,1358.2 1829.4,1348.3 1831.4,1339.2 1833.4,1331.0 1835.4,1323.6 1837.4,1317.2 1839.4,1311.7 1841.4,1307.2 1843.4,1303.7 1845.4,1301.2 1847.4,1299.7 1849.4,1299.3 1851.4,1300.0 1853.4,1301.7 1855.4,1304.5 1857.4,1308.5 1859.4,1313.4 1861.4,1319.4 1863.4,1326.5 1865.4,1334.4 1867.4,1343.3 1869.4,1353.1 1871.4,1363.7 1873.4,1375.1 1875.4,1387.2 1877.4,1400.0 1879.4,1413.3 1881.4,1427.3 1883.4,1441.7 1885.4,1456.5 1887.4,1471.7 1889.4,1487.2 1891.4,1502.9 1893.4,1518.8 1895.4,1534.8 1897.4,1550.8 1899.4,1566.9 1901.4,1582.9 1903.4,1598.7 1905.4,1614.4 1907.4,1629.9 1909.4,1645.2 1911.5,1660.1 1913.5,1674.8 1915.5,1689.1 1917.5,1703.0 1919.5,1716.4 1921.5,1729.5 1923.5,1742.1 1925.5,1754.2 1927.5,1765.9 1929.5,1777.1 1931.5,1787.8 1933.5,1798.0 1935.5,1807.7 1937.5,1816.9 1939.5,1825.6 1941.5,1833.9 1943.5,1841.6 1945.5,1849.0 1947.5,1855.8 1949.5,1862.3 1951.5,1868.3 1953.5,1873.9 1955.5,1879.2 1957.5,1884.0 1959.5,1888.5 1961.5,1892.7 1963.5,1896.6 1965.5,1900.1 1967.5,1903.4 1969.5,1906.4 1971.5,1909.1 1973.5,1911.6 1975.5,1913.9 1977.5,1916.0 1979.5,1917.9 1981.5,1919.6 1983.5,1921.2 1985.5,1922.6 1987.5,1923.8 1989.5,1925.0 1991.5,1926.0 1993.5,1926.9 1995.5,1927.7 1997.5,1928.5 1999.6,1929.1 2001.6,1929.7 2003.6,1930.2 2005.6,1930.7 2007.6,1931.1 2009.6,1931.4 2011.6,1931.7 2013.6,1932.0 2015.6,1932.2 2017.6,1932.4 2019.6,1932.6 2021.6,1932.8 2023.6,1932.9 2025.6,1933.1 2027.6,1933.2 2029.6,1933.3 2031.6,1933.3 2033.6,1933.4 2035.6,1933.5 2037.6,1933.5 2039.6,1933.6 2041.6,1933.6 2043.6,1933.6 2045.6,1933.7 2047.6,1933.7 2049.6,1933.7 2051.6,1933.7 2053.6,1933.7 2055.6,1933.7 2057.6,1933.7 2059.6,1933.8 2061.6,1933.8 2063.6,1933.8 2065.6,1933.8 2067.6,1933.8 2069.6,1933.8 2071.6,1933.8 2073.6,1933.8 2075.6,1933.8 2077.6,1933.8 2079.6,1933.8 2081.6,1933.8 2083.6,1933.8 2085.6,1933.8 2087.7,1933.8 2089.7,1933.8 2091.7,1933.8 2093.7,1933.8 2095.7,1933.8 2097.7,1933.8 2099.7,1933.8 2101.7,1933.8 2103.7,1933.8 2105.7,1933.8 2107.7,1933.8 2109.7,1933.8 2111.7,1933.8 2113.7,1933.8 2115.7,1933.8 2117.7,1933.8 2119.7,1933.8 2121.7,1933.8 2123.7,1933.8 2125.7,1933.8 2127.7,1933.8 2129.7,1933.8 2131.7,1933.8 2133.7,1933.8 2135.7,1933.8 2137.7,1933.8 2139.7,1933.8 2141.7,1933.8 2143.7,1933.8 2145.7,1933.8 2147.7,1933.8 2149.7,1933.8 2151.7,1933.8 2153.7,1933.8 2155.7,1933.8 2157.7,1933.8 2159.7,1933.8 2161.7,1933.8 2163.7,1933.8 2165.7,1933.8 2167.7,1933.8 2169.7,1933.8 2171.7,1933.8 2173.7,1933.8 2175.8,1933.8 2177.8,1933.8 2179.8,1933.8 2181.8,1933.8 2183.8,1933.8 2185.8,1933.8 2187.8,1933.8 2189.8,1933.8 2191.8,1933.8 2193.8,1933.8 2195.8,1933.8 2197.8,1933.8 2199.8,1933.8 2201.8,1933.8 2203.8,1933.8 2205.8,1933.8 2207.8,1933.8 2209.8,1933.8 2211.8,1933.8 2213.8,1933.8 2215.8,1933.8 2217.8,1933.8 2219.8,1933.8 2221.8,1933.8 2223.8,1933.8 2225.8,1933.8 2227.8,1933.8 2229.8,1933.8 2231.8,1933.8 2233.8,1933.8 2235.8,1933.8 2237.8,1933.8 2239.8,1933.8 2241.8,1933.8 2243.8,1933.8 2245.8,1933.8 2247.8,1933.8 2249.8,1933.8 2251.8,1933.8 2253.8,1933.8 2255.8,1933.8 2257.8,1933.8 2259.8,1933.8 2261.8,1933.8 2263.9,1933.8 2265.9,1933.8 2267.9,1933.8 2269.9,1933.8 2271.9,1933.8 2273.9,1933.8 2275.9,1933.8 2277.9,1933.8 2279.9,1933.8 2281.9,1933.8 2283.9,1933.8 2285.9,1933.8 2287.9,1933.8 2289.9,1933.8 2291.9,1933.8 2293.9,1933.8 2295.9,1933.8 2297.9,1933.8 2299.9,1933.8 2301.9,1933.8 2303.9,1933.8 2305.9,1933.8 2307.9,1933.8 2309.9,1933.8 2311.9,1933.8 2313.9,1933.8 2315.9,1933.8 2317.9,1933.8 2319.9,1933.8 2321.9,1933.8 2323.9,1933.8 2325.9,1933.8 2327.9,1933.8 2329.9,1933.8 2331.9,1933.8 2333.9,1933.8 2335.9,1933.8 2337.9,1933.8 2339.9,1933.8 2341.9,1933.8 2343.9,1933.8 2345.9,1933.8 2347.9,1933.8 2349.9,1933.8 2352.0,1933.8 2354.0,1933.8 2356.0,1933.8 2358.0,1933.8 2360.0,1933.8 2362.0,1933.8 2364.0,1933.8 2366.0,1933.8 2368.0,1933.8 2370.0,1933.8 2372.0,1933.8 2374.0,1933.8 2376.0,1933.8 2378.0,1933.8 2380.0,1933.8 2382.0,1933.8 2384.0,1933.8 2386.0,1933.8 2388.0,1933.8 2390.0,1933.8 2392.0,1933.8 2394.0,1933.8 2396.0,1933.8 2398.0,1933.8 2400.0,1933.8 2402.0,1933.8 2404.0,1933.8 2406.0,1933.8 2408.0,1933.8 2410.0,1933.8 2412.0,1933.8 2414.0,1933.8 2416.0,1933.8 2418.0,1933.8" fill="none" stroke="#00f" stroke-width="9.2" stroke-linejoin="round"/>
<text font-size="75" stroke="#000" stroke-width="0.55" transform="translate(1429.8 752.2) rotate(-90) scale(1 1.068)"><tspan x="0.0" y="0" letter-spacing="3.60">PL</tspan> <tspan x="108.7" y="0" letter-spacing="-0.11">Intensity</tspan> <tspan x="401.0" y="0" letter-spacing="0.24">(a.u.)</tspan></text>
<text font-size="75" stroke="#000" stroke-width="0.55" transform="translate(0 130.3) scale(1 1.068)"><tspan x="1516.4" y="0" letter-spacing="0.90">(b)</tspan></text>
<text font-size="75" stroke="#000" stroke-width="0.55" transform="translate(0 143.1) scale(1 1.068)"><tspan x="1711.2" y="0" letter-spacing="1.70">FX-2LO</tspan></text>
<text font-size="75" stroke="#000" stroke-width="0.55" transform="translate(0 339.7) scale(1 1.068)"><tspan x="2034.8" y="0" letter-spacing="1.60">FX</tspan></text>
<text font-size="75" stroke="#000" stroke-width="0.55" transform="translate(0 617.9) scale(1 1.068)"><tspan x="1844.4" y="0" letter-spacing="1.96">FX-1LO</tspan></text>
<text font-size="75" stroke="#000" stroke-width="0.55" transform="translate(0 978.2) scale(1 1.068)"><tspan x="1583.9" y="0" letter-spacing="1.15">3.0</tspan></text>
<text font-size="75" stroke="#000" stroke-width="0.55" transform="translate(0 978.2) scale(1 1.068)"><tspan x="1892.9" y="0" letter-spacing="1.50">3.2</tspan></text>
<text font-size="75" stroke="#000" stroke-width="0.55" transform="translate(0 978.2) scale(1 1.068)"><tspan x="2201.6" y="0" letter-spacing="0.15">3.4</tspan></text>
<text font-size="75" stroke="#000" stroke-width="0.55" transform="translate(0 1061.7) scale(1 1.068)"><tspan x="1619.9" y="0" letter-spacing="0.80">Photon</tspan> <tspan x="1876.8" y="0" letter-spacing="0.22">Energy</tspan> <tspan x="2132.8" y="0" letter-spacing="1.23">(eV)</tspan></text>
<text font-size="77" font-weight="bold" transform="translate(0 155.2) scale(1 1.045)"><tspan x="2080.8" y="0" letter-spacing="-1.25">ZnO</tspan></text>
<text font-size="48" font-weight="bold" transform="translate(0 171.3) scale(1 1.045)"><tspan x="2233.6" y="0" letter-spacing="-0.10">-<tspan font-style="italic">i</tspan>PrOH</tspan></text>
<text font-size="75" stroke="#000" stroke-width="0.55" transform="translate(1427.7 1842.5) rotate(-90) scale(1 1.068)"><tspan x="0.0" y="0" letter-spacing="3.50">PL</tspan> <tspan x="108.6" y="0" letter-spacing="-0.11">Intensity</tspan> <tspan x="401.0" y="0" letter-spacing="0.22">(a.u.)</tspan></text>
<text font-size="75" stroke="#000" stroke-width="0.55" transform="translate(0 1210.3) scale(1 1.068)"><tspan x="1497.8" y="0" letter-spacing="1.00">(c)</tspan></text>
<text font-size="75" stroke="#000" stroke-width="0.55" transform="translate(0 1244.1) scale(1 1.068)"><tspan x="1704.3" y="0" letter-spacing="1.48">FX-2LO</tspan></text>
<text font-size="75" stroke="#000" stroke-width="0.55" transform="translate(0 1702.8) scale(1 1.068)"><tspan x="1940.6" y="0" letter-spacing="1.68">FX-1LO</tspan></text>
<text font-size="75" stroke="#000" stroke-width="0.55" transform="translate(0 1813.8) scale(1 1.068)"><tspan x="2100.3" y="0" letter-spacing="0.90">FX</tspan></text>
<text font-size="75" stroke="#000" stroke-width="0.55" transform="translate(0 2074.1) scale(1 1.068)"><tspan x="1587.3" y="0" letter-spacing="1.20">3.0</tspan></text>
<text font-size="75" stroke="#000" stroke-width="0.55" transform="translate(0 2074.1) scale(1 1.068)"><tspan x="1894.0" y="0" letter-spacing="0.95">3.2</tspan></text>
<text font-size="75" stroke="#000" stroke-width="0.55" transform="translate(0 2074.1) scale(1 1.068)"><tspan x="2205.0" y="0" letter-spacing="-0.35">3.4</tspan></text>
<text font-size="75" stroke="#000" stroke-width="0.55" transform="translate(0 2166.9) scale(1 1.068)"><tspan x="1619.9" y="0" letter-spacing="0.80">Photon</tspan> <tspan x="1876.8" y="0" letter-spacing="0.22">Energy</tspan> <tspan x="2132.8" y="0" letter-spacing="1.23">(eV)</tspan></text>
<text font-size="77" font-weight="bold" transform="translate(0 1232.1) scale(1 1.045)"><tspan x="2089.8" y="0" letter-spacing="-1.25">ZnO</tspan></text>
<text font-size="48" font-weight="bold" transform="translate(0 1248.2) scale(1 1.045)"><tspan x="2242.2" y="0" letter-spacing="0.25">-MeOH</tspan></text>
</svg>
</body></html>
